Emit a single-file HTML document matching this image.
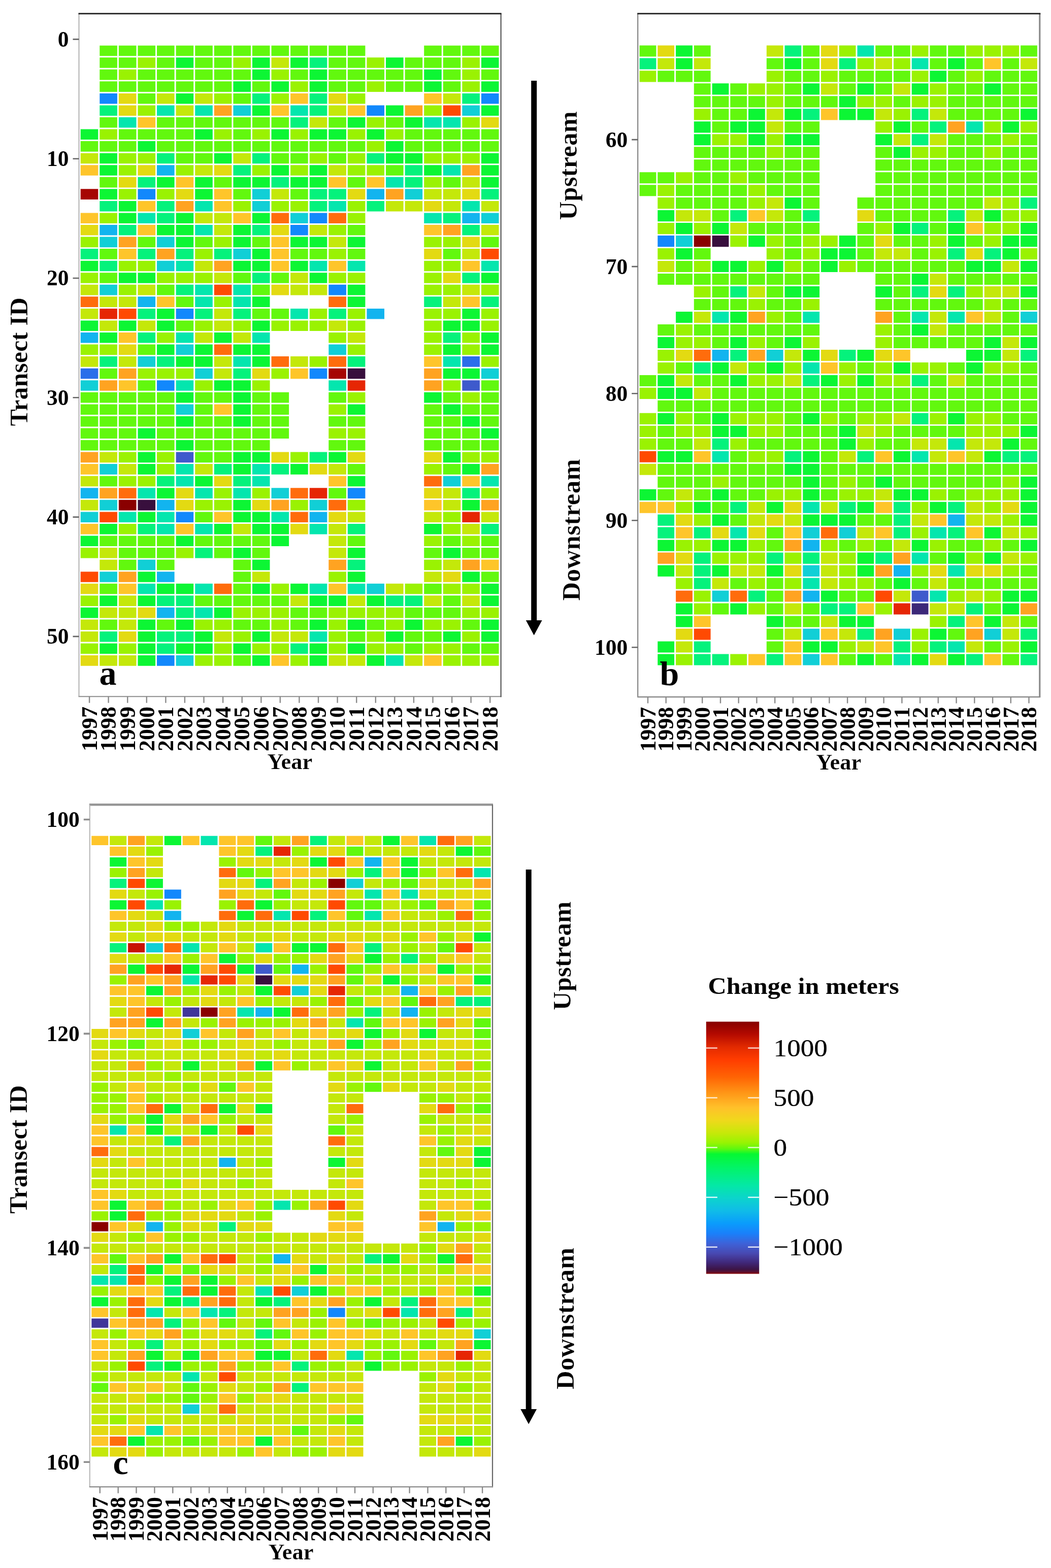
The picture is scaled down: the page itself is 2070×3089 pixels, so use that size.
<!DOCTYPE html>
<html lang="en"><head><meta charset="utf-8"><title>Change in meters by transect and year</title>
<style>html,body{margin:0;padding:0;background:#fff}svg{display:block}text{font-family:"Liberation Serif","DejaVu Serif",serif;fill:#000}.tk{font-size:43.5px;font-weight:bold;font-kerning:none}.xt{font-size:44px;font-weight:bold;font-kerning:none}.yr{font-size:44.5px;font-weight:bold;stroke:#fff;stroke-width:.25px}.st{font-size:51px;font-weight:bold;stroke:#fff;stroke-width:.35px}.ax{font-size:50px;font-weight:bold;stroke:#fff;stroke-width:.35px}.pl{font-size:68px;font-weight:bold}.lg{font-size:49px;stroke:#000;stroke-width:.25px}.lt{font-size:46.8px;font-weight:bold}</style></head><body>
<svg width="2070" height="3089" viewBox="0 0 2070 3089" role="img" aria-label="Heatmaps of change in meters by transect ID and year">
<rect width="2070" height="3089" fill="#fff"/>
<defs><linearGradient id="cb" x1="0" y1="0" x2="0" y2="1">
<stop offset="0%" stop-color="#860000"/>
<stop offset="5%" stop-color="#b40a00"/>
<stop offset="10%" stop-color="#e22a00"/>
<stop offset="15%" stop-color="#ff3c00"/>
<stop offset="22%" stop-color="#ff6404"/>
<stop offset="28%" stop-color="#ff9416"/>
<stop offset="34%" stop-color="#ffc02a"/>
<stop offset="39%" stop-color="#f0d81c"/>
<stop offset="44%" stop-color="#c8e80a"/>
<stop offset="48%" stop-color="#98f402"/>
<stop offset="50.5%" stop-color="#5cf810"/>
<stop offset="52.5%" stop-color="#06f832"/>
<stop offset="58%" stop-color="#02f468"/>
<stop offset="65%" stop-color="#04e8a6"/>
<stop offset="70%" stop-color="#0cd4cc"/>
<stop offset="75%" stop-color="#10bce8"/>
<stop offset="80%" stop-color="#0a9cfc"/>
<stop offset="84%" stop-color="#1a80fa"/>
<stop offset="88%" stop-color="#3e62d8"/>
<stop offset="92%" stop-color="#4848b0"/>
<stop offset="95.5%" stop-color="#40287a"/>
<stop offset="98.2%" stop-color="#3c1446"/>
<stop offset="99.2%" stop-color="#5a1030"/>
<stop offset="100%" stop-color="#8a0a0a"/>
</linearGradient></defs>
<g id="panel-a">
<g class="cells">
<path fill="#1288fc" d="M196.3 183.9h34.6v20.6h-34.6zM947.9 183.9h34.6v20.6h-34.6zM722.4 207.4h34.6v20.6h-34.6zM271.5 372.3h34.6v20.6h-34.6zM609.7 419.4h34.6v20.6h-34.6zM572.1 443h34.6v20.6h-34.6zM647.3 560.8h34.6v20.6h-34.6zM346.6 607.9h34.6v20.6h-34.6zM609.7 725.7h34.6v20.6h-34.6zM309 749.2h34.6v20.6h-34.6zM684.8 961.3h34.6v20.6h-34.6zM346.6 1008.4h34.6v20.6h-34.6zM309 1291.1h34.6v20.6h-34.6z"/>
<path fill="#e62604" d="M196.3 607.9h34.6v20.6h-34.6zM684.8 749.2h34.6v20.6h-34.6zM609.7 961.3h34.6v20.6h-34.6zM910.3 1008.4h34.6v20.6h-34.6z"/>
<path fill="#0cf634" d="M346.6 113.2h34.6v20.6h-34.6zM496.9 113.2h34.6v20.6h-34.6zM572.1 113.2h34.6v20.6h-34.6zM760 113.2h34.6v20.6h-34.6zM947.9 113.2h34.6v20.6h-34.6zM496.9 136.8h34.6v20.6h-34.6zM609.7 136.8h34.6v20.6h-34.6zM835.2 136.8h34.6v20.6h-34.6zM459.4 160.3h34.6v20.6h-34.6zM534.5 160.3h34.6v20.6h-34.6zM609.7 160.3h34.6v20.6h-34.6zM835.2 160.3h34.6v20.6h-34.6zM947.9 160.3h34.6v20.6h-34.6zM346.6 183.9h34.6v20.6h-34.6zM496.9 207.4h34.6v20.6h-34.6zM760 207.4h34.6v20.6h-34.6zM947.9 207.4h34.6v20.6h-34.6zM684.8 231h34.6v20.6h-34.6zM797.6 231h34.6v20.6h-34.6zM158.7 254.5h34.6v20.6h-34.6zM384.2 254.5h34.6v20.6h-34.6zM534.5 254.5h34.6v20.6h-34.6zM609.7 254.5h34.6v20.6h-34.6zM647.3 254.5h34.6v20.6h-34.6zM722.4 254.5h34.6v20.6h-34.6zM271.5 278.1h34.6v20.6h-34.6zM760 278.1h34.6v20.6h-34.6zM196.3 301.7h34.6v20.6h-34.6zM421.8 301.7h34.6v20.6h-34.6zM760 301.7h34.6v20.6h-34.6zM797.6 301.7h34.6v20.6h-34.6zM947.9 301.7h34.6v20.6h-34.6zM196.3 325.2h34.6v20.6h-34.6zM534.5 325.2h34.6v20.6h-34.6zM609.7 325.2h34.6v20.6h-34.6zM835.2 325.2h34.6v20.6h-34.6zM947.9 325.2h34.6v20.6h-34.6zM309 348.8h34.6v20.6h-34.6zM384.2 348.8h34.6v20.6h-34.6zM459.4 348.8h34.6v20.6h-34.6zM496.9 348.8h34.6v20.6h-34.6zM572.1 348.8h34.6v20.6h-34.6zM609.7 348.8h34.6v20.6h-34.6zM947.9 348.8h34.6v20.6h-34.6zM196.3 372.3h34.6v20.6h-34.6zM384.2 372.3h34.6v20.6h-34.6zM233.9 395.9h34.6v20.6h-34.6zM233.9 419.4h34.6v20.6h-34.6zM346.6 419.4h34.6v20.6h-34.6zM496.9 419.4h34.6v20.6h-34.6zM309 443h34.6v20.6h-34.6zM346.6 443h34.6v20.6h-34.6zM459.4 443h34.6v20.6h-34.6zM346.6 466.6h34.6v20.6h-34.6zM459.4 466.6h34.6v20.6h-34.6zM572.1 466.6h34.6v20.6h-34.6zM609.7 466.6h34.6v20.6h-34.6zM684.8 466.6h34.6v20.6h-34.6zM496.9 490.1h34.6v20.6h-34.6zM158.7 513.7h34.6v20.6h-34.6zM459.4 513.7h34.6v20.6h-34.6zM496.9 513.7h34.6v20.6h-34.6zM572.1 513.7h34.6v20.6h-34.6zM233.9 537.2h34.6v20.6h-34.6zM271.5 537.2h34.6v20.6h-34.6zM609.7 537.2h34.6v20.6h-34.6zM947.9 537.2h34.6v20.6h-34.6zM684.8 560.8h34.6v20.6h-34.6zM496.9 584.3h34.6v20.6h-34.6zM684.8 584.3h34.6v20.6h-34.6zM309 607.9h34.6v20.6h-34.6zM910.3 607.9h34.6v20.6h-34.6zM158.7 631.5h34.6v20.6h-34.6zM233.9 631.5h34.6v20.6h-34.6zM309 631.5h34.6v20.6h-34.6zM496.9 631.5h34.6v20.6h-34.6zM872.7 631.5h34.6v20.6h-34.6zM910.3 631.5h34.6v20.6h-34.6zM196.3 655h34.6v20.6h-34.6zM421.8 655h34.6v20.6h-34.6zM947.9 655h34.6v20.6h-34.6zM309 678.6h34.6v20.6h-34.6zM384.2 678.6h34.6v20.6h-34.6zM459.4 678.6h34.6v20.6h-34.6zM496.9 678.6h34.6v20.6h-34.6zM872.7 678.6h34.6v20.6h-34.6zM947.9 678.6h34.6v20.6h-34.6zM346.6 702.1h34.6v20.6h-34.6zM384.2 702.1h34.6v20.6h-34.6zM496.9 702.1h34.6v20.6h-34.6zM872.7 725.7h34.6v20.6h-34.6zM910.3 725.7h34.6v20.6h-34.6zM421.8 749.2h34.6v20.6h-34.6zM459.4 749.2h34.6v20.6h-34.6zM346.6 772.8h34.6v20.6h-34.6zM459.4 772.8h34.6v20.6h-34.6zM835.2 772.8h34.6v20.6h-34.6zM459.4 796.4h34.6v20.6h-34.6zM684.8 796.4h34.6v20.6h-34.6zM872.7 796.4h34.6v20.6h-34.6zM346.6 819.9h34.6v20.6h-34.6zM459.4 819.9h34.6v20.6h-34.6zM910.3 819.9h34.6v20.6h-34.6zM271.5 843.5h34.6v20.6h-34.6zM947.9 843.5h34.6v20.6h-34.6zM346.6 867h34.6v20.6h-34.6zM271.5 890.6h34.6v20.6h-34.6zM459.4 890.6h34.6v20.6h-34.6zM496.9 890.6h34.6v20.6h-34.6zM647.3 890.6h34.6v20.6h-34.6zM872.7 890.6h34.6v20.6h-34.6zM271.5 914.1h34.6v20.6h-34.6zM459.4 914.1h34.6v20.6h-34.6zM572.1 914.1h34.6v20.6h-34.6zM910.3 914.1h34.6v20.6h-34.6zM384.2 937.7h34.6v20.6h-34.6zM684.8 937.7h34.6v20.6h-34.6zM309 961.3h34.6v20.6h-34.6zM459.4 984.8h34.6v20.6h-34.6zM910.3 984.8h34.6v20.6h-34.6zM271.5 1008.4h34.6v20.6h-34.6zM459.4 1008.4h34.6v20.6h-34.6zM496.9 1008.4h34.6v20.6h-34.6zM196.3 1031.9h34.6v20.6h-34.6zM421.8 1031.9h34.6v20.6h-34.6zM496.9 1031.9h34.6v20.6h-34.6zM534.5 1031.9h34.6v20.6h-34.6zM835.2 1031.9h34.6v20.6h-34.6zM158.7 1055.5h34.6v20.6h-34.6zM346.6 1055.5h34.6v20.6h-34.6zM534.5 1055.5h34.6v20.6h-34.6zM459.4 1079h34.6v20.6h-34.6zM684.8 1079h34.6v20.6h-34.6zM872.7 1079h34.6v20.6h-34.6zM496.9 1102.6h34.6v20.6h-34.6zM271.5 1126.2h34.6v20.6h-34.6zM684.8 1126.2h34.6v20.6h-34.6zM910.3 1126.2h34.6v20.6h-34.6zM309 1149.7h34.6v20.6h-34.6zM346.6 1149.7h34.6v20.6h-34.6zM496.9 1149.7h34.6v20.6h-34.6zM572.1 1149.7h34.6v20.6h-34.6zM947.9 1149.7h34.6v20.6h-34.6zM196.3 1173.3h34.6v20.6h-34.6zM271.5 1173.3h34.6v20.6h-34.6zM609.7 1173.3h34.6v20.6h-34.6zM647.3 1173.3h34.6v20.6h-34.6zM722.4 1173.3h34.6v20.6h-34.6zM947.9 1173.3h34.6v20.6h-34.6zM158.7 1196.8h34.6v20.6h-34.6zM421.8 1196.8h34.6v20.6h-34.6zM271.5 1220.4h34.6v20.6h-34.6zM346.6 1220.4h34.6v20.6h-34.6zM609.7 1220.4h34.6v20.6h-34.6zM684.8 1220.4h34.6v20.6h-34.6zM797.6 1220.4h34.6v20.6h-34.6zM947.9 1220.4h34.6v20.6h-34.6zM271.5 1243.9h34.6v20.6h-34.6zM384.2 1243.9h34.6v20.6h-34.6zM496.9 1243.9h34.6v20.6h-34.6zM760 1243.9h34.6v20.6h-34.6zM872.7 1243.9h34.6v20.6h-34.6zM947.9 1243.9h34.6v20.6h-34.6zM196.3 1267.5h34.6v20.6h-34.6zM271.5 1267.5h34.6v20.6h-34.6zM346.6 1267.5h34.6v20.6h-34.6zM384.2 1267.5h34.6v20.6h-34.6zM459.4 1267.5h34.6v20.6h-34.6zM609.7 1267.5h34.6v20.6h-34.6zM684.8 1267.5h34.6v20.6h-34.6zM271.5 1291.1h34.6v20.6h-34.6zM496.9 1291.1h34.6v20.6h-34.6zM609.7 1291.1h34.6v20.6h-34.6zM722.4 1291.1h34.6v20.6h-34.6z"/>
<path fill="#3e5acc" d="M910.3 749.2h34.6v20.6h-34.6zM346.6 890.6h34.6v20.6h-34.6z"/>
<path fill="#a60603" d="M158.7 372.3h34.6v20.6h-34.6zM647.3 725.7h34.6v20.6h-34.6z"/>
<path fill="#8a0000" d="M233.9 984.8h34.6v20.6h-34.6z"/>
<path fill="#ffa321" d="M421.8 207.4h34.6v20.6h-34.6zM797.6 207.4h34.6v20.6h-34.6zM910.3 325.2h34.6v20.6h-34.6zM760 372.3h34.6v20.6h-34.6zM346.6 395.9h34.6v20.6h-34.6zM872.7 443h34.6v20.6h-34.6zM233.9 466.6h34.6v20.6h-34.6zM309 490.1h34.6v20.6h-34.6zM421.8 513.7h34.6v20.6h-34.6zM233.9 725.7h34.6v20.6h-34.6zM835.2 725.7h34.6v20.6h-34.6zM196.3 749.2h34.6v20.6h-34.6zM835.2 749.2h34.6v20.6h-34.6zM158.7 890.6h34.6v20.6h-34.6zM947.9 914.1h34.6v20.6h-34.6zM196.3 961.3h34.6v20.6h-34.6zM534.5 984.8h34.6v20.6h-34.6zM947.9 984.8h34.6v20.6h-34.6zM647.3 1102.6h34.6v20.6h-34.6zM910.3 1102.6h34.6v20.6h-34.6zM233.9 1126.2h34.6v20.6h-34.6z"/>
<path fill="#380f3d" d="M684.8 725.7h34.6v20.6h-34.6zM271.5 984.8h34.6v20.6h-34.6z"/>
<path fill="#ff4a02" d="M872.7 207.4h34.6v20.6h-34.6zM947.9 490.1h34.6v20.6h-34.6zM421.8 560.8h34.6v20.6h-34.6zM233.9 607.9h34.6v20.6h-34.6zM196.3 1008.4h34.6v20.6h-34.6zM158.7 1126.2h34.6v20.6h-34.6z"/>
<path fill="#04e6ae" d="M309 207.4h34.6v20.6h-34.6zM384.2 207.4h34.6v20.6h-34.6zM572.1 207.4h34.6v20.6h-34.6zM233.9 231h34.6v20.6h-34.6zM835.2 231h34.6v20.6h-34.6zM872.7 231h34.6v20.6h-34.6zM872.7 325.2h34.6v20.6h-34.6zM760 348.8h34.6v20.6h-34.6zM384.2 395.9h34.6v20.6h-34.6zM647.3 395.9h34.6v20.6h-34.6zM910.3 395.9h34.6v20.6h-34.6zM271.5 419.4h34.6v20.6h-34.6zM835.2 419.4h34.6v20.6h-34.6zM384.2 443h34.6v20.6h-34.6zM346.6 513.7h34.6v20.6h-34.6zM609.7 513.7h34.6v20.6h-34.6zM684.8 513.7h34.6v20.6h-34.6zM947.9 513.7h34.6v20.6h-34.6zM384.2 560.8h34.6v20.6h-34.6zM459.4 560.8h34.6v20.6h-34.6zM384.2 584.3h34.6v20.6h-34.6zM459.4 584.3h34.6v20.6h-34.6zM572.1 607.9h34.6v20.6h-34.6zM346.6 655h34.6v20.6h-34.6zM496.9 655h34.6v20.6h-34.6zM459.4 702.1h34.6v20.6h-34.6zM872.7 702.1h34.6v20.6h-34.6zM346.6 749.2h34.6v20.6h-34.6zM647.3 749.2h34.6v20.6h-34.6zM346.6 914.1h34.6v20.6h-34.6zM496.9 914.1h34.6v20.6h-34.6zM346.6 937.7h34.6v20.6h-34.6zM496.9 937.7h34.6v20.6h-34.6zM947.9 937.7h34.6v20.6h-34.6zM271.5 961.3h34.6v20.6h-34.6zM384.2 961.3h34.6v20.6h-34.6zM459.4 961.3h34.6v20.6h-34.6zM233.9 1008.4h34.6v20.6h-34.6zM309 1008.4h34.6v20.6h-34.6zM534.5 1008.4h34.6v20.6h-34.6zM309 1031.9h34.6v20.6h-34.6zM384.2 1031.9h34.6v20.6h-34.6zM609.7 1031.9h34.6v20.6h-34.6zM271.5 1149.7h34.6v20.6h-34.6zM384.2 1149.7h34.6v20.6h-34.6zM609.7 1149.7h34.6v20.6h-34.6zM684.8 1149.7h34.6v20.6h-34.6zM384.2 1196.8h34.6v20.6h-34.6zM609.7 1243.9h34.6v20.6h-34.6zM760 1291.1h34.6v20.6h-34.6z"/>
<path fill="#2a6eea" d="M910.3 702.1h34.6v20.6h-34.6zM158.7 725.7h34.6v20.6h-34.6z"/>
<path fill="#e3da12" d="M233.9 183.9h34.6v20.6h-34.6zM647.3 183.9h34.6v20.6h-34.6zM233.9 207.4h34.6v20.6h-34.6zM947.9 231h34.6v20.6h-34.6zM271.5 325.2h34.6v20.6h-34.6zM421.8 325.2h34.6v20.6h-34.6zM233.9 348.8h34.6v20.6h-34.6zM346.6 372.3h34.6v20.6h-34.6zM684.8 372.3h34.6v20.6h-34.6zM910.3 372.3h34.6v20.6h-34.6zM835.2 395.9h34.6v20.6h-34.6zM158.7 443h34.6v20.6h-34.6zM534.5 443h34.6v20.6h-34.6zM910.3 466.6h34.6v20.6h-34.6zM835.2 490.1h34.6v20.6h-34.6zM872.7 537.2h34.6v20.6h-34.6zM534.5 560.8h34.6v20.6h-34.6zM233.9 678.6h34.6v20.6h-34.6zM496.9 725.7h34.6v20.6h-34.6zM534.5 890.6h34.6v20.6h-34.6zM684.8 890.6h34.6v20.6h-34.6zM835.2 890.6h34.6v20.6h-34.6zM609.7 914.1h34.6v20.6h-34.6zM421.8 937.7h34.6v20.6h-34.6zM346.6 961.3h34.6v20.6h-34.6zM835.2 961.3h34.6v20.6h-34.6zM346.6 984.8h34.6v20.6h-34.6zM496.9 984.8h34.6v20.6h-34.6zM647.3 1008.4h34.6v20.6h-34.6zM572.1 1031.9h34.6v20.6h-34.6zM872.7 1126.2h34.6v20.6h-34.6zM158.7 1149.7h34.6v20.6h-34.6zM271.5 1196.8h34.6v20.6h-34.6zM233.9 1243.9h34.6v20.6h-34.6zM158.7 1291.1h34.6v20.6h-34.6z"/>
<path fill="#12b4ef" d="M309 325.2h34.6v20.6h-34.6zM722.4 372.3h34.6v20.6h-34.6zM910.3 419.4h34.6v20.6h-34.6zM196.3 443h34.6v20.6h-34.6zM271.5 584.3h34.6v20.6h-34.6zM722.4 607.9h34.6v20.6h-34.6zM158.7 655h34.6v20.6h-34.6zM158.7 961.3h34.6v20.6h-34.6zM309 984.8h34.6v20.6h-34.6zM609.7 1008.4h34.6v20.6h-34.6zM309 1126.2h34.6v20.6h-34.6zM309 1196.8h34.6v20.6h-34.6z"/>
<path fill="#11cfd6" d="M459.4 207.4h34.6v20.6h-34.6zM910.3 207.4h34.6v20.6h-34.6zM496.9 372.3h34.6v20.6h-34.6zM797.6 372.3h34.6v20.6h-34.6zM496.9 395.9h34.6v20.6h-34.6zM572.1 419.4h34.6v20.6h-34.6zM947.9 419.4h34.6v20.6h-34.6zM196.3 466.6h34.6v20.6h-34.6zM309 466.6h34.6v20.6h-34.6zM459.4 490.1h34.6v20.6h-34.6zM309 513.7h34.6v20.6h-34.6zM196.3 560.8h34.6v20.6h-34.6zM346.6 678.6h34.6v20.6h-34.6zM647.3 678.6h34.6v20.6h-34.6zM271.5 702.1h34.6v20.6h-34.6zM384.2 725.7h34.6v20.6h-34.6zM947.9 725.7h34.6v20.6h-34.6zM158.7 749.2h34.6v20.6h-34.6zM346.6 796.4h34.6v20.6h-34.6zM196.3 914.1h34.6v20.6h-34.6zM872.7 937.7h34.6v20.6h-34.6zM534.5 961.3h34.6v20.6h-34.6zM196.3 984.8h34.6v20.6h-34.6zM609.7 984.8h34.6v20.6h-34.6zM158.7 1008.4h34.6v20.6h-34.6zM271.5 1102.6h34.6v20.6h-34.6zM196.3 1126.2h34.6v20.6h-34.6zM722.4 1149.7h34.6v20.6h-34.6zM346.6 1291.1h34.6v20.6h-34.6z"/>
<path fill="#62f80e" d="M196.3 89.7h34.6v20.6h-34.6zM233.9 89.7h34.6v20.6h-34.6zM271.5 89.7h34.6v20.6h-34.6zM309 89.7h34.6v20.6h-34.6zM346.6 89.7h34.6v20.6h-34.6zM384.2 89.7h34.6v20.6h-34.6zM421.8 89.7h34.6v20.6h-34.6zM459.4 89.7h34.6v20.6h-34.6zM496.9 89.7h34.6v20.6h-34.6zM534.5 89.7h34.6v20.6h-34.6zM572.1 89.7h34.6v20.6h-34.6zM609.7 89.7h34.6v20.6h-34.6zM647.3 89.7h34.6v20.6h-34.6zM684.8 89.7h34.6v20.6h-34.6zM835.2 89.7h34.6v20.6h-34.6zM872.7 89.7h34.6v20.6h-34.6zM910.3 89.7h34.6v20.6h-34.6zM947.9 89.7h34.6v20.6h-34.6zM196.3 113.2h34.6v20.6h-34.6zM233.9 113.2h34.6v20.6h-34.6zM309 113.2h34.6v20.6h-34.6zM384.2 113.2h34.6v20.6h-34.6zM421.8 113.2h34.6v20.6h-34.6zM647.3 113.2h34.6v20.6h-34.6zM684.8 113.2h34.6v20.6h-34.6zM797.6 113.2h34.6v20.6h-34.6zM835.2 113.2h34.6v20.6h-34.6zM872.7 113.2h34.6v20.6h-34.6zM196.3 136.8h34.6v20.6h-34.6zM271.5 136.8h34.6v20.6h-34.6zM309 136.8h34.6v20.6h-34.6zM346.6 136.8h34.6v20.6h-34.6zM384.2 136.8h34.6v20.6h-34.6zM421.8 136.8h34.6v20.6h-34.6zM459.4 136.8h34.6v20.6h-34.6zM572.1 136.8h34.6v20.6h-34.6zM647.3 136.8h34.6v20.6h-34.6zM684.8 136.8h34.6v20.6h-34.6zM722.4 136.8h34.6v20.6h-34.6zM760 136.8h34.6v20.6h-34.6zM797.6 136.8h34.6v20.6h-34.6zM872.7 136.8h34.6v20.6h-34.6zM947.9 136.8h34.6v20.6h-34.6zM196.3 160.3h34.6v20.6h-34.6zM233.9 160.3h34.6v20.6h-34.6zM271.5 160.3h34.6v20.6h-34.6zM309 160.3h34.6v20.6h-34.6zM346.6 160.3h34.6v20.6h-34.6zM384.2 160.3h34.6v20.6h-34.6zM421.8 160.3h34.6v20.6h-34.6zM496.9 160.3h34.6v20.6h-34.6zM647.3 160.3h34.6v20.6h-34.6zM684.8 160.3h34.6v20.6h-34.6zM760 160.3h34.6v20.6h-34.6zM797.6 160.3h34.6v20.6h-34.6zM872.7 160.3h34.6v20.6h-34.6zM271.5 183.9h34.6v20.6h-34.6zM459.4 183.9h34.6v20.6h-34.6zM196.3 231h34.6v20.6h-34.6zM309 231h34.6v20.6h-34.6zM346.6 231h34.6v20.6h-34.6zM384.2 231h34.6v20.6h-34.6zM421.8 231h34.6v20.6h-34.6zM459.4 231h34.6v20.6h-34.6zM496.9 231h34.6v20.6h-34.6zM534.5 231h34.6v20.6h-34.6zM647.3 231h34.6v20.6h-34.6zM760 231h34.6v20.6h-34.6zM233.9 254.5h34.6v20.6h-34.6zM271.5 254.5h34.6v20.6h-34.6zM309 254.5h34.6v20.6h-34.6zM346.6 254.5h34.6v20.6h-34.6zM459.4 254.5h34.6v20.6h-34.6zM797.6 254.5h34.6v20.6h-34.6zM835.2 254.5h34.6v20.6h-34.6zM872.7 254.5h34.6v20.6h-34.6zM910.3 254.5h34.6v20.6h-34.6zM947.9 254.5h34.6v20.6h-34.6zM158.7 278.1h34.6v20.6h-34.6zM196.3 278.1h34.6v20.6h-34.6zM233.9 278.1h34.6v20.6h-34.6zM309 278.1h34.6v20.6h-34.6zM346.6 278.1h34.6v20.6h-34.6zM384.2 278.1h34.6v20.6h-34.6zM421.8 278.1h34.6v20.6h-34.6zM459.4 278.1h34.6v20.6h-34.6zM496.9 278.1h34.6v20.6h-34.6zM534.5 278.1h34.6v20.6h-34.6zM572.1 278.1h34.6v20.6h-34.6zM609.7 278.1h34.6v20.6h-34.6zM647.3 278.1h34.6v20.6h-34.6zM684.8 278.1h34.6v20.6h-34.6zM797.6 278.1h34.6v20.6h-34.6zM835.2 278.1h34.6v20.6h-34.6zM872.7 278.1h34.6v20.6h-34.6zM910.3 278.1h34.6v20.6h-34.6zM947.9 278.1h34.6v20.6h-34.6zM346.6 301.7h34.6v20.6h-34.6zM384.2 301.7h34.6v20.6h-34.6zM534.5 301.7h34.6v20.6h-34.6zM572.1 301.7h34.6v20.6h-34.6zM647.3 301.7h34.6v20.6h-34.6zM760 325.2h34.6v20.6h-34.6zM196.3 348.8h34.6v20.6h-34.6zM421.8 348.8h34.6v20.6h-34.6zM684.8 348.8h34.6v20.6h-34.6zM872.7 348.8h34.6v20.6h-34.6zM459.4 372.3h34.6v20.6h-34.6zM572.1 372.3h34.6v20.6h-34.6zM684.8 443h34.6v20.6h-34.6zM271.5 466.6h34.6v20.6h-34.6zM384.2 466.6h34.6v20.6h-34.6zM496.9 466.6h34.6v20.6h-34.6zM947.9 466.6h34.6v20.6h-34.6zM196.3 490.1h34.6v20.6h-34.6zM572.1 490.1h34.6v20.6h-34.6zM609.7 490.1h34.6v20.6h-34.6zM684.8 490.1h34.6v20.6h-34.6zM872.7 490.1h34.6v20.6h-34.6zM196.3 537.2h34.6v20.6h-34.6zM459.4 537.2h34.6v20.6h-34.6zM534.5 537.2h34.6v20.6h-34.6zM309 560.8h34.6v20.6h-34.6zM496.9 560.8h34.6v20.6h-34.6zM346.6 584.3h34.6v20.6h-34.6zM496.9 607.9h34.6v20.6h-34.6zM534.5 607.9h34.6v20.6h-34.6zM346.6 631.5h34.6v20.6h-34.6zM271.5 678.6h34.6v20.6h-34.6zM196.3 725.7h34.6v20.6h-34.6zM271.5 749.2h34.6v20.6h-34.6zM947.9 749.2h34.6v20.6h-34.6zM158.7 772.8h34.6v20.6h-34.6zM196.3 772.8h34.6v20.6h-34.6zM233.9 772.8h34.6v20.6h-34.6zM271.5 772.8h34.6v20.6h-34.6zM309 772.8h34.6v20.6h-34.6zM384.2 772.8h34.6v20.6h-34.6zM421.8 772.8h34.6v20.6h-34.6zM496.9 772.8h34.6v20.6h-34.6zM534.5 772.8h34.6v20.6h-34.6zM647.3 772.8h34.6v20.6h-34.6zM872.7 772.8h34.6v20.6h-34.6zM947.9 772.8h34.6v20.6h-34.6zM158.7 796.4h34.6v20.6h-34.6zM196.3 796.4h34.6v20.6h-34.6zM233.9 796.4h34.6v20.6h-34.6zM271.5 796.4h34.6v20.6h-34.6zM309 796.4h34.6v20.6h-34.6zM384.2 796.4h34.6v20.6h-34.6zM496.9 796.4h34.6v20.6h-34.6zM534.5 796.4h34.6v20.6h-34.6zM835.2 796.4h34.6v20.6h-34.6zM910.3 796.4h34.6v20.6h-34.6zM947.9 796.4h34.6v20.6h-34.6zM158.7 819.9h34.6v20.6h-34.6zM196.3 819.9h34.6v20.6h-34.6zM233.9 819.9h34.6v20.6h-34.6zM271.5 819.9h34.6v20.6h-34.6zM309 819.9h34.6v20.6h-34.6zM384.2 819.9h34.6v20.6h-34.6zM421.8 819.9h34.6v20.6h-34.6zM496.9 819.9h34.6v20.6h-34.6zM534.5 819.9h34.6v20.6h-34.6zM647.3 819.9h34.6v20.6h-34.6zM684.8 819.9h34.6v20.6h-34.6zM835.2 819.9h34.6v20.6h-34.6zM872.7 819.9h34.6v20.6h-34.6zM947.9 819.9h34.6v20.6h-34.6zM158.7 843.5h34.6v20.6h-34.6zM196.3 843.5h34.6v20.6h-34.6zM233.9 843.5h34.6v20.6h-34.6zM309 843.5h34.6v20.6h-34.6zM346.6 843.5h34.6v20.6h-34.6zM384.2 843.5h34.6v20.6h-34.6zM421.8 843.5h34.6v20.6h-34.6zM459.4 843.5h34.6v20.6h-34.6zM496.9 843.5h34.6v20.6h-34.6zM534.5 843.5h34.6v20.6h-34.6zM835.2 843.5h34.6v20.6h-34.6zM872.7 843.5h34.6v20.6h-34.6zM910.3 843.5h34.6v20.6h-34.6zM158.7 867h34.6v20.6h-34.6zM196.3 867h34.6v20.6h-34.6zM233.9 867h34.6v20.6h-34.6zM271.5 867h34.6v20.6h-34.6zM309 867h34.6v20.6h-34.6zM384.2 867h34.6v20.6h-34.6zM421.8 867h34.6v20.6h-34.6zM459.4 867h34.6v20.6h-34.6zM496.9 867h34.6v20.6h-34.6zM647.3 867h34.6v20.6h-34.6zM684.8 867h34.6v20.6h-34.6zM835.2 867h34.6v20.6h-34.6zM872.7 867h34.6v20.6h-34.6zM910.3 867h34.6v20.6h-34.6zM947.9 867h34.6v20.6h-34.6zM384.2 890.6h34.6v20.6h-34.6zM421.8 890.6h34.6v20.6h-34.6zM684.8 914.1h34.6v20.6h-34.6zM872.7 914.1h34.6v20.6h-34.6zM196.3 937.7h34.6v20.6h-34.6zM647.3 961.3h34.6v20.6h-34.6zM384.2 1008.4h34.6v20.6h-34.6zM196.3 1055.5h34.6v20.6h-34.6zM233.9 1055.5h34.6v20.6h-34.6zM271.5 1055.5h34.6v20.6h-34.6zM309 1055.5h34.6v20.6h-34.6zM384.2 1055.5h34.6v20.6h-34.6zM421.8 1055.5h34.6v20.6h-34.6zM459.4 1055.5h34.6v20.6h-34.6zM496.9 1055.5h34.6v20.6h-34.6zM684.8 1055.5h34.6v20.6h-34.6zM872.7 1055.5h34.6v20.6h-34.6zM947.9 1055.5h34.6v20.6h-34.6zM233.9 1079h34.6v20.6h-34.6zM271.5 1079h34.6v20.6h-34.6zM309 1079h34.6v20.6h-34.6zM421.8 1079h34.6v20.6h-34.6zM496.9 1079h34.6v20.6h-34.6zM835.2 1079h34.6v20.6h-34.6zM910.3 1079h34.6v20.6h-34.6zM947.9 1079h34.6v20.6h-34.6zM233.9 1102.6h34.6v20.6h-34.6zM309 1102.6h34.6v20.6h-34.6zM459.4 1102.6h34.6v20.6h-34.6zM459.4 1126.2h34.6v20.6h-34.6zM947.9 1126.2h34.6v20.6h-34.6zM196.3 1149.7h34.6v20.6h-34.6zM459.4 1149.7h34.6v20.6h-34.6zM835.2 1149.7h34.6v20.6h-34.6zM384.2 1173.3h34.6v20.6h-34.6zM421.8 1173.3h34.6v20.6h-34.6zM459.4 1173.3h34.6v20.6h-34.6zM496.9 1173.3h34.6v20.6h-34.6zM534.5 1173.3h34.6v20.6h-34.6zM872.7 1173.3h34.6v20.6h-34.6zM572.1 1196.8h34.6v20.6h-34.6zM609.7 1196.8h34.6v20.6h-34.6zM797.6 1196.8h34.6v20.6h-34.6zM835.2 1196.8h34.6v20.6h-34.6zM872.7 1196.8h34.6v20.6h-34.6zM196.3 1220.4h34.6v20.6h-34.6zM309 1220.4h34.6v20.6h-34.6zM459.4 1220.4h34.6v20.6h-34.6zM496.9 1220.4h34.6v20.6h-34.6zM572.1 1220.4h34.6v20.6h-34.6zM722.4 1220.4h34.6v20.6h-34.6zM910.3 1220.4h34.6v20.6h-34.6zM684.8 1243.9h34.6v20.6h-34.6zM797.6 1243.9h34.6v20.6h-34.6zM835.2 1243.9h34.6v20.6h-34.6zM797.6 1267.5h34.6v20.6h-34.6zM910.3 1267.5h34.6v20.6h-34.6zM947.9 1267.5h34.6v20.6h-34.6zM459.4 1291.1h34.6v20.6h-34.6z"/>
<path fill="#9af202" d="M271.5 113.2h34.6v20.6h-34.6zM459.4 113.2h34.6v20.6h-34.6zM722.4 113.2h34.6v20.6h-34.6zM910.3 113.2h34.6v20.6h-34.6zM233.9 136.8h34.6v20.6h-34.6zM534.5 136.8h34.6v20.6h-34.6zM910.3 136.8h34.6v20.6h-34.6zM572.1 160.3h34.6v20.6h-34.6zM722.4 160.3h34.6v20.6h-34.6zM910.3 160.3h34.6v20.6h-34.6zM421.8 183.9h34.6v20.6h-34.6zM534.5 183.9h34.6v20.6h-34.6zM684.8 183.9h34.6v20.6h-34.6zM271.5 207.4h34.6v20.6h-34.6zM835.2 207.4h34.6v20.6h-34.6zM722.4 231h34.6v20.6h-34.6zM910.3 231h34.6v20.6h-34.6zM196.3 254.5h34.6v20.6h-34.6zM421.8 254.5h34.6v20.6h-34.6zM496.9 254.5h34.6v20.6h-34.6zM572.1 254.5h34.6v20.6h-34.6zM684.8 254.5h34.6v20.6h-34.6zM760 254.5h34.6v20.6h-34.6zM722.4 278.1h34.6v20.6h-34.6zM233.9 301.7h34.6v20.6h-34.6zM271.5 301.7h34.6v20.6h-34.6zM609.7 301.7h34.6v20.6h-34.6zM684.8 301.7h34.6v20.6h-34.6zM835.2 301.7h34.6v20.6h-34.6zM872.7 301.7h34.6v20.6h-34.6zM910.3 301.7h34.6v20.6h-34.6zM233.9 325.2h34.6v20.6h-34.6zM346.6 325.2h34.6v20.6h-34.6zM496.9 325.2h34.6v20.6h-34.6zM572.1 325.2h34.6v20.6h-34.6zM684.8 325.2h34.6v20.6h-34.6zM722.4 325.2h34.6v20.6h-34.6zM835.2 348.8h34.6v20.6h-34.6zM233.9 372.3h34.6v20.6h-34.6zM309 372.3h34.6v20.6h-34.6zM459.4 395.9h34.6v20.6h-34.6zM534.5 395.9h34.6v20.6h-34.6zM572.1 395.9h34.6v20.6h-34.6zM684.8 395.9h34.6v20.6h-34.6zM196.3 419.4h34.6v20.6h-34.6zM684.8 419.4h34.6v20.6h-34.6zM647.3 443h34.6v20.6h-34.6zM158.7 466.6h34.6v20.6h-34.6zM421.8 466.6h34.6v20.6h-34.6zM835.2 466.6h34.6v20.6h-34.6zM872.7 466.6h34.6v20.6h-34.6zM384.2 490.1h34.6v20.6h-34.6zM647.3 490.1h34.6v20.6h-34.6zM233.9 513.7h34.6v20.6h-34.6zM271.5 513.7h34.6v20.6h-34.6zM835.2 513.7h34.6v20.6h-34.6zM872.7 513.7h34.6v20.6h-34.6zM158.7 537.2h34.6v20.6h-34.6zM309 537.2h34.6v20.6h-34.6zM346.6 537.2h34.6v20.6h-34.6zM384.2 537.2h34.6v20.6h-34.6zM647.3 537.2h34.6v20.6h-34.6zM684.8 537.2h34.6v20.6h-34.6zM835.2 537.2h34.6v20.6h-34.6zM233.9 560.8h34.6v20.6h-34.6zM835.2 560.8h34.6v20.6h-34.6zM872.7 560.8h34.6v20.6h-34.6zM947.9 560.8h34.6v20.6h-34.6zM421.8 584.3h34.6v20.6h-34.6zM609.7 607.9h34.6v20.6h-34.6zM684.8 607.9h34.6v20.6h-34.6zM835.2 607.9h34.6v20.6h-34.6zM872.7 607.9h34.6v20.6h-34.6zM947.9 607.9h34.6v20.6h-34.6zM384.2 631.5h34.6v20.6h-34.6zM459.4 631.5h34.6v20.6h-34.6zM534.5 631.5h34.6v20.6h-34.6zM572.1 631.5h34.6v20.6h-34.6zM609.7 631.5h34.6v20.6h-34.6zM684.8 631.5h34.6v20.6h-34.6zM835.2 631.5h34.6v20.6h-34.6zM947.9 631.5h34.6v20.6h-34.6zM309 655h34.6v20.6h-34.6zM647.3 655h34.6v20.6h-34.6zM835.2 655h34.6v20.6h-34.6zM910.3 655h34.6v20.6h-34.6zM158.7 678.6h34.6v20.6h-34.6zM196.3 678.6h34.6v20.6h-34.6zM684.8 678.6h34.6v20.6h-34.6zM835.2 678.6h34.6v20.6h-34.6zM910.3 678.6h34.6v20.6h-34.6zM609.7 702.1h34.6v20.6h-34.6zM947.9 702.1h34.6v20.6h-34.6zM271.5 725.7h34.6v20.6h-34.6zM309 725.7h34.6v20.6h-34.6zM346.6 725.7h34.6v20.6h-34.6zM534.5 725.7h34.6v20.6h-34.6zM384.2 749.2h34.6v20.6h-34.6zM496.9 749.2h34.6v20.6h-34.6zM872.7 749.2h34.6v20.6h-34.6zM684.8 772.8h34.6v20.6h-34.6zM910.3 772.8h34.6v20.6h-34.6zM647.3 796.4h34.6v20.6h-34.6zM647.3 843.5h34.6v20.6h-34.6zM684.8 843.5h34.6v20.6h-34.6zM233.9 890.6h34.6v20.6h-34.6zM309 890.6h34.6v20.6h-34.6zM572.1 890.6h34.6v20.6h-34.6zM910.3 890.6h34.6v20.6h-34.6zM947.9 890.6h34.6v20.6h-34.6zM309 914.1h34.6v20.6h-34.6zM835.2 914.1h34.6v20.6h-34.6zM233.9 937.7h34.6v20.6h-34.6zM271.5 937.7h34.6v20.6h-34.6zM421.8 961.3h34.6v20.6h-34.6zM496.9 961.3h34.6v20.6h-34.6zM947.9 961.3h34.6v20.6h-34.6zM384.2 984.8h34.6v20.6h-34.6zM421.8 984.8h34.6v20.6h-34.6zM572.1 984.8h34.6v20.6h-34.6zM684.8 984.8h34.6v20.6h-34.6zM872.7 1008.4h34.6v20.6h-34.6zM233.9 1031.9h34.6v20.6h-34.6zM872.7 1031.9h34.6v20.6h-34.6zM835.2 1055.5h34.6v20.6h-34.6zM910.3 1055.5h34.6v20.6h-34.6zM158.7 1079h34.6v20.6h-34.6zM346.6 1079h34.6v20.6h-34.6zM835.2 1102.6h34.6v20.6h-34.6zM647.3 1126.2h34.6v20.6h-34.6zM534.5 1149.7h34.6v20.6h-34.6zM797.6 1149.7h34.6v20.6h-34.6zM872.7 1149.7h34.6v20.6h-34.6zM910.3 1149.7h34.6v20.6h-34.6zM158.7 1173.3h34.6v20.6h-34.6zM459.4 1196.8h34.6v20.6h-34.6zM496.9 1196.8h34.6v20.6h-34.6zM534.5 1196.8h34.6v20.6h-34.6zM647.3 1196.8h34.6v20.6h-34.6zM684.8 1196.8h34.6v20.6h-34.6zM722.4 1196.8h34.6v20.6h-34.6zM760 1196.8h34.6v20.6h-34.6zM910.3 1196.8h34.6v20.6h-34.6zM947.9 1196.8h34.6v20.6h-34.6zM384.2 1220.4h34.6v20.6h-34.6zM421.8 1220.4h34.6v20.6h-34.6zM534.5 1220.4h34.6v20.6h-34.6zM647.3 1220.4h34.6v20.6h-34.6zM760 1220.4h34.6v20.6h-34.6zM835.2 1220.4h34.6v20.6h-34.6zM872.7 1220.4h34.6v20.6h-34.6zM459.4 1243.9h34.6v20.6h-34.6zM647.3 1243.9h34.6v20.6h-34.6zM722.4 1243.9h34.6v20.6h-34.6zM910.3 1243.9h34.6v20.6h-34.6zM158.7 1267.5h34.6v20.6h-34.6zM233.9 1267.5h34.6v20.6h-34.6zM421.8 1267.5h34.6v20.6h-34.6zM496.9 1267.5h34.6v20.6h-34.6zM534.5 1267.5h34.6v20.6h-34.6zM647.3 1267.5h34.6v20.6h-34.6zM722.4 1267.5h34.6v20.6h-34.6zM760 1267.5h34.6v20.6h-34.6zM835.2 1267.5h34.6v20.6h-34.6zM872.7 1267.5h34.6v20.6h-34.6zM384.2 1291.1h34.6v20.6h-34.6zM421.8 1291.1h34.6v20.6h-34.6zM572.1 1291.1h34.6v20.6h-34.6zM872.7 1291.1h34.6v20.6h-34.6zM910.3 1291.1h34.6v20.6h-34.6zM947.9 1291.1h34.6v20.6h-34.6z"/>
<path fill="#fec52a" d="M572.1 183.9h34.6v20.6h-34.6zM835.2 183.9h34.6v20.6h-34.6zM534.5 207.4h34.6v20.6h-34.6zM684.8 207.4h34.6v20.6h-34.6zM271.5 231h34.6v20.6h-34.6zM158.7 325.2h34.6v20.6h-34.6zM346.6 348.8h34.6v20.6h-34.6zM647.3 348.8h34.6v20.6h-34.6zM722.4 348.8h34.6v20.6h-34.6zM421.8 372.3h34.6v20.6h-34.6zM271.5 395.9h34.6v20.6h-34.6zM421.8 395.9h34.6v20.6h-34.6zM158.7 419.4h34.6v20.6h-34.6zM459.4 419.4h34.6v20.6h-34.6zM271.5 443h34.6v20.6h-34.6zM835.2 443h34.6v20.6h-34.6zM534.5 466.6h34.6v20.6h-34.6zM233.9 490.1h34.6v20.6h-34.6zM534.5 490.1h34.6v20.6h-34.6zM534.5 513.7h34.6v20.6h-34.6zM647.3 513.7h34.6v20.6h-34.6zM910.3 513.7h34.6v20.6h-34.6zM309 584.3h34.6v20.6h-34.6zM910.3 584.3h34.6v20.6h-34.6zM233.9 655h34.6v20.6h-34.6zM835.2 702.1h34.6v20.6h-34.6zM572.1 725.7h34.6v20.6h-34.6zM233.9 749.2h34.6v20.6h-34.6zM421.8 796.4h34.6v20.6h-34.6zM158.7 914.1h34.6v20.6h-34.6zM647.3 937.7h34.6v20.6h-34.6zM910.3 937.7h34.6v20.6h-34.6zM835.2 984.8h34.6v20.6h-34.6zM421.8 1008.4h34.6v20.6h-34.6zM158.7 1031.9h34.6v20.6h-34.6zM346.6 1031.9h34.6v20.6h-34.6zM947.9 1102.6h34.6v20.6h-34.6zM233.9 1149.7h34.6v20.6h-34.6zM647.3 1149.7h34.6v20.6h-34.6zM534.5 1291.1h34.6v20.6h-34.6zM835.2 1291.1h34.6v20.6h-34.6z"/>
<path fill="#ff6c0c" d="M534.5 419.4h34.6v20.6h-34.6zM647.3 419.4h34.6v20.6h-34.6zM158.7 584.3h34.6v20.6h-34.6zM647.3 584.3h34.6v20.6h-34.6zM421.8 678.6h34.6v20.6h-34.6zM534.5 702.1h34.6v20.6h-34.6zM647.3 702.1h34.6v20.6h-34.6zM835.2 937.7h34.6v20.6h-34.6zM233.9 961.3h34.6v20.6h-34.6zM572.1 961.3h34.6v20.6h-34.6zM647.3 984.8h34.6v20.6h-34.6zM572.1 1008.4h34.6v20.6h-34.6zM421.8 1149.7h34.6v20.6h-34.6z"/>
<path fill="#05f27c" d="M609.7 113.2h34.6v20.6h-34.6zM496.9 183.9h34.6v20.6h-34.6zM609.7 183.9h34.6v20.6h-34.6zM910.3 183.9h34.6v20.6h-34.6zM196.3 207.4h34.6v20.6h-34.6zM609.7 207.4h34.6v20.6h-34.6zM572.1 231h34.6v20.6h-34.6zM309 301.7h34.6v20.6h-34.6zM496.9 301.7h34.6v20.6h-34.6zM722.4 301.7h34.6v20.6h-34.6zM459.4 325.2h34.6v20.6h-34.6zM797.6 325.2h34.6v20.6h-34.6zM271.5 348.8h34.6v20.6h-34.6zM534.5 348.8h34.6v20.6h-34.6zM797.6 348.8h34.6v20.6h-34.6zM609.7 372.3h34.6v20.6h-34.6zM647.3 372.3h34.6v20.6h-34.6zM947.9 372.3h34.6v20.6h-34.6zM196.3 395.9h34.6v20.6h-34.6zM309 395.9h34.6v20.6h-34.6zM609.7 395.9h34.6v20.6h-34.6zM722.4 395.9h34.6v20.6h-34.6zM309 419.4h34.6v20.6h-34.6zM872.7 419.4h34.6v20.6h-34.6zM233.9 443h34.6v20.6h-34.6zM496.9 443h34.6v20.6h-34.6zM910.3 443h34.6v20.6h-34.6zM158.7 490.1h34.6v20.6h-34.6zM271.5 490.1h34.6v20.6h-34.6zM346.6 490.1h34.6v20.6h-34.6zM421.8 490.1h34.6v20.6h-34.6zM196.3 513.7h34.6v20.6h-34.6zM496.9 537.2h34.6v20.6h-34.6zM910.3 537.2h34.6v20.6h-34.6zM346.6 560.8h34.6v20.6h-34.6zM835.2 584.3h34.6v20.6h-34.6zM947.9 584.3h34.6v20.6h-34.6zM271.5 607.9h34.6v20.6h-34.6zM384.2 607.9h34.6v20.6h-34.6zM459.4 607.9h34.6v20.6h-34.6zM647.3 607.9h34.6v20.6h-34.6zM271.5 655h34.6v20.6h-34.6zM872.7 655h34.6v20.6h-34.6zM196.3 702.1h34.6v20.6h-34.6zM309 702.1h34.6v20.6h-34.6zM684.8 702.1h34.6v20.6h-34.6zM459.4 725.7h34.6v20.6h-34.6zM609.7 890.6h34.6v20.6h-34.6zM421.8 914.1h34.6v20.6h-34.6zM534.5 914.1h34.6v20.6h-34.6zM309 937.7h34.6v20.6h-34.6zM459.4 937.7h34.6v20.6h-34.6zM910.3 961.3h34.6v20.6h-34.6zM271.5 1031.9h34.6v20.6h-34.6zM684.8 1031.9h34.6v20.6h-34.6zM947.9 1031.9h34.6v20.6h-34.6zM384.2 1079h34.6v20.6h-34.6zM684.8 1102.6h34.6v20.6h-34.6zM309 1173.3h34.6v20.6h-34.6zM346.6 1173.3h34.6v20.6h-34.6zM760 1173.3h34.6v20.6h-34.6zM797.6 1173.3h34.6v20.6h-34.6zM346.6 1196.8h34.6v20.6h-34.6zM196.3 1243.9h34.6v20.6h-34.6zM309 1243.9h34.6v20.6h-34.6zM346.6 1243.9h34.6v20.6h-34.6zM309 1267.5h34.6v20.6h-34.6zM572.1 1267.5h34.6v20.6h-34.6z"/>
<path fill="#c4e80a" d="M534.5 113.2h34.6v20.6h-34.6zM309 183.9h34.6v20.6h-34.6zM384.2 183.9h34.6v20.6h-34.6zM872.7 183.9h34.6v20.6h-34.6zM346.6 207.4h34.6v20.6h-34.6zM647.3 207.4h34.6v20.6h-34.6zM609.7 231h34.6v20.6h-34.6zM158.7 301.7h34.6v20.6h-34.6zM459.4 301.7h34.6v20.6h-34.6zM384.2 325.2h34.6v20.6h-34.6zM647.3 325.2h34.6v20.6h-34.6zM910.3 348.8h34.6v20.6h-34.6zM534.5 372.3h34.6v20.6h-34.6zM835.2 372.3h34.6v20.6h-34.6zM872.7 372.3h34.6v20.6h-34.6zM760 395.9h34.6v20.6h-34.6zM797.6 395.9h34.6v20.6h-34.6zM872.7 395.9h34.6v20.6h-34.6zM947.9 395.9h34.6v20.6h-34.6zM384.2 419.4h34.6v20.6h-34.6zM421.8 419.4h34.6v20.6h-34.6zM421.8 443h34.6v20.6h-34.6zM609.7 443h34.6v20.6h-34.6zM947.9 443h34.6v20.6h-34.6zM647.3 466.6h34.6v20.6h-34.6zM910.3 490.1h34.6v20.6h-34.6zM384.2 513.7h34.6v20.6h-34.6zM421.8 537.2h34.6v20.6h-34.6zM572.1 537.2h34.6v20.6h-34.6zM158.7 560.8h34.6v20.6h-34.6zM271.5 560.8h34.6v20.6h-34.6zM572.1 560.8h34.6v20.6h-34.6zM609.7 560.8h34.6v20.6h-34.6zM910.3 560.8h34.6v20.6h-34.6zM196.3 584.3h34.6v20.6h-34.6zM233.9 584.3h34.6v20.6h-34.6zM872.7 584.3h34.6v20.6h-34.6zM158.7 607.9h34.6v20.6h-34.6zM421.8 607.9h34.6v20.6h-34.6zM196.3 631.5h34.6v20.6h-34.6zM271.5 631.5h34.6v20.6h-34.6zM421.8 631.5h34.6v20.6h-34.6zM647.3 631.5h34.6v20.6h-34.6zM384.2 655h34.6v20.6h-34.6zM459.4 655h34.6v20.6h-34.6zM684.8 655h34.6v20.6h-34.6zM158.7 702.1h34.6v20.6h-34.6zM233.9 702.1h34.6v20.6h-34.6zM421.8 702.1h34.6v20.6h-34.6zM572.1 702.1h34.6v20.6h-34.6zM421.8 725.7h34.6v20.6h-34.6zM196.3 890.6h34.6v20.6h-34.6zM233.9 914.1h34.6v20.6h-34.6zM384.2 914.1h34.6v20.6h-34.6zM647.3 914.1h34.6v20.6h-34.6zM158.7 937.7h34.6v20.6h-34.6zM872.7 961.3h34.6v20.6h-34.6zM158.7 984.8h34.6v20.6h-34.6zM872.7 984.8h34.6v20.6h-34.6zM684.8 1008.4h34.6v20.6h-34.6zM835.2 1008.4h34.6v20.6h-34.6zM947.9 1008.4h34.6v20.6h-34.6zM459.4 1031.9h34.6v20.6h-34.6zM647.3 1031.9h34.6v20.6h-34.6zM910.3 1031.9h34.6v20.6h-34.6zM647.3 1055.5h34.6v20.6h-34.6zM196.3 1079h34.6v20.6h-34.6zM647.3 1079h34.6v20.6h-34.6zM196.3 1102.6h34.6v20.6h-34.6zM872.7 1102.6h34.6v20.6h-34.6zM496.9 1126.2h34.6v20.6h-34.6zM835.2 1126.2h34.6v20.6h-34.6zM760 1149.7h34.6v20.6h-34.6zM233.9 1173.3h34.6v20.6h-34.6zM572.1 1173.3h34.6v20.6h-34.6zM684.8 1173.3h34.6v20.6h-34.6zM835.2 1173.3h34.6v20.6h-34.6zM910.3 1173.3h34.6v20.6h-34.6zM196.3 1196.8h34.6v20.6h-34.6zM233.9 1196.8h34.6v20.6h-34.6zM158.7 1220.4h34.6v20.6h-34.6zM233.9 1220.4h34.6v20.6h-34.6zM158.7 1243.9h34.6v20.6h-34.6zM421.8 1243.9h34.6v20.6h-34.6zM534.5 1243.9h34.6v20.6h-34.6zM572.1 1243.9h34.6v20.6h-34.6zM196.3 1291.1h34.6v20.6h-34.6zM233.9 1291.1h34.6v20.6h-34.6zM647.3 1291.1h34.6v20.6h-34.6zM684.8 1291.1h34.6v20.6h-34.6zM797.6 1291.1h34.6v20.6h-34.6z"/>
</g>
<path d="M155.5 26.8V1372.2" stroke="#a8a8a8" stroke-width="1.8" fill="none"/>
<path d="M154.5 1372.2H987.6" stroke="#999" stroke-width="2.2" fill="none"/>
<path d="M986.6 26.8V1373.2" stroke="#555" stroke-width="2.2" fill="none"/>
<path d="M154.5 26.8H987.6" stroke="#1c1c1c" stroke-width="2.8" fill="none"/>
<text class="tk" x="135.5" y="91.8" text-anchor="end">0</text>
<text class="tk" x="135.5" y="327.1" text-anchor="end">10</text>
<text class="tk" x="135.5" y="562.4" text-anchor="end">20</text>
<text class="tk" x="135.5" y="797.7" text-anchor="end">30</text>
<text class="tk" x="135.5" y="1033" text-anchor="end">40</text>
<text class="tk" x="135.5" y="1268.3" text-anchor="end">50</text>
<path d="M143.5 77.4H155.5M143.5 312.7H155.5M143.5 548H155.5M143.5 783.3H155.5M143.5 1018.6H155.5M143.5 1253.9H155.5" stroke="#666" stroke-width="2.6" fill="none"/>
<text class="xt" transform="translate(190.8 1392) rotate(-90)" text-anchor="end">1997</text>
<text class="xt" transform="translate(228.3 1392) rotate(-90)" text-anchor="end">1998</text>
<text class="xt" transform="translate(265.9 1392) rotate(-90)" text-anchor="end">1999</text>
<text class="xt" transform="translate(303.5 1392) rotate(-90)" text-anchor="end">2000</text>
<text class="xt" transform="translate(341.1 1392) rotate(-90)" text-anchor="end">2001</text>
<text class="xt" transform="translate(378.6 1392) rotate(-90)" text-anchor="end">2002</text>
<text class="xt" transform="translate(416.2 1392) rotate(-90)" text-anchor="end">2003</text>
<text class="xt" transform="translate(453.8 1392) rotate(-90)" text-anchor="end">2004</text>
<text class="xt" transform="translate(491.4 1392) rotate(-90)" text-anchor="end">2005</text>
<text class="xt" transform="translate(529 1392) rotate(-90)" text-anchor="end">2006</text>
<text class="xt" transform="translate(566.5 1392) rotate(-90)" text-anchor="end">2007</text>
<text class="xt" transform="translate(604.1 1392) rotate(-90)" text-anchor="end">2008</text>
<text class="xt" transform="translate(641.7 1392) rotate(-90)" text-anchor="end">2009</text>
<text class="xt" transform="translate(679.3 1392) rotate(-90)" text-anchor="end">2010</text>
<text class="xt" transform="translate(716.9 1392) rotate(-90)" text-anchor="end">2011</text>
<text class="xt" transform="translate(754.5 1392) rotate(-90)" text-anchor="end">2012</text>
<text class="xt" transform="translate(792 1392) rotate(-90)" text-anchor="end">2013</text>
<text class="xt" transform="translate(829.6 1392) rotate(-90)" text-anchor="end">2014</text>
<text class="xt" transform="translate(867.2 1392) rotate(-90)" text-anchor="end">2015</text>
<text class="xt" transform="translate(904.8 1392) rotate(-90)" text-anchor="end">2016</text>
<text class="xt" transform="translate(942.3 1392) rotate(-90)" text-anchor="end">2017</text>
<text class="xt" transform="translate(979.9 1392) rotate(-90)" text-anchor="end">2018</text>
<path d="M176.1 1372.2V1384.7M213.6 1372.2V1384.7M251.2 1372.2V1384.7M288.8 1372.2V1384.7M326.4 1372.2V1384.7M363.9 1372.2V1384.7M401.5 1372.2V1384.7M439.1 1372.2V1384.7M476.7 1372.2V1384.7M514.3 1372.2V1384.7M551.8 1372.2V1384.7M589.4 1372.2V1384.7M627 1372.2V1384.7M664.6 1372.2V1384.7M702.2 1372.2V1384.7M739.8 1372.2V1384.7M777.3 1372.2V1384.7M814.9 1372.2V1384.7M852.5 1372.2V1384.7M890.1 1372.2V1384.7M927.6 1372.2V1384.7M965.2 1372.2V1384.7" stroke="#8a8a8a" stroke-width="2.4" fill="none"/>
<text class="yr" x="570.8" y="1514.8" text-anchor="middle">Year</text>
</g>
<g id="panel-b">
<g class="cells">
<path fill="#1288fc" d="M1295.3 464.1h32.8v22.1h-32.8z"/>
<path fill="#e62604" d="M1760 1188.5h32.8v22.1h-32.8z"/>
<path fill="#0cf634" d="M1331.1 89.4h32.8v22.1h-32.8zM1331.1 114.4h32.8v22.1h-32.8zM1545.5 114.4h32.8v22.1h-32.8zM1867.2 114.4h32.8v22.1h-32.8zM1831.4 139.3h32.8v22.1h-32.8zM1402.6 164.3h32.8v22.1h-32.8zM1581.3 164.3h32.8v22.1h-32.8zM1688.5 164.3h32.8v22.1h-32.8zM1795.7 164.3h32.8v22.1h-32.8zM1938.7 164.3h32.8v22.1h-32.8zM1652.7 189.3h32.8v22.1h-32.8zM1474 214.3h32.8v22.1h-32.8zM1545.5 214.3h32.8v22.1h-32.8zM1652.7 214.3h32.8v22.1h-32.8zM1688.5 214.3h32.8v22.1h-32.8zM2010.1 214.3h32.8v22.1h-32.8zM1366.8 239.3h32.8v22.1h-32.8zM1438.3 239.3h32.8v22.1h-32.8zM1474 239.3h32.8v22.1h-32.8zM1760 239.3h32.8v22.1h-32.8zM1974.4 239.3h32.8v22.1h-32.8zM1366.8 264.2h32.8v22.1h-32.8zM1474 264.2h32.8v22.1h-32.8zM1545.5 264.2h32.8v22.1h-32.8zM1581.3 264.2h32.8v22.1h-32.8zM1724.2 264.2h32.8v22.1h-32.8zM1760 289.2h32.8v22.1h-32.8zM1545.5 389.1h32.8v22.1h-32.8zM1295.3 414.1h32.8v22.1h-32.8zM1938.7 414.1h32.8v22.1h-32.8zM1331.1 439.1h32.8v22.1h-32.8zM1402.6 439.1h32.8v22.1h-32.8zM1760 439.1h32.8v22.1h-32.8zM1867.2 439.1h32.8v22.1h-32.8zM2010.1 439.1h32.8v22.1h-32.8zM1474 464.1h32.8v22.1h-32.8zM1652.7 464.1h32.8v22.1h-32.8zM1867.2 464.1h32.8v22.1h-32.8zM1974.4 464.1h32.8v22.1h-32.8zM2010.1 464.1h32.8v22.1h-32.8zM1331.1 489.1h32.8v22.1h-32.8zM1617 489.1h32.8v22.1h-32.8zM1652.7 489.1h32.8v22.1h-32.8zM1974.4 489.1h32.8v22.1h-32.8zM1402.6 514h32.8v22.1h-32.8zM1438.3 514h32.8v22.1h-32.8zM1509.8 514h32.8v22.1h-32.8zM1617 514h32.8v22.1h-32.8zM1902.9 514h32.8v22.1h-32.8zM1938.7 514h32.8v22.1h-32.8zM2010.1 514h32.8v22.1h-32.8zM1795.7 539h32.8v22.1h-32.8zM1545.5 564h32.8v22.1h-32.8zM1581.3 564h32.8v22.1h-32.8zM1724.2 564h32.8v22.1h-32.8zM2010.1 564h32.8v22.1h-32.8zM1331.1 614h32.8v22.1h-32.8zM1438.3 614h32.8v22.1h-32.8zM1795.7 638.9h32.8v22.1h-32.8zM1295.3 663.9h32.8v22.1h-32.8zM1438.3 663.9h32.8v22.1h-32.8zM1545.5 663.9h32.8v22.1h-32.8zM1938.7 663.9h32.8v22.1h-32.8zM2010.1 663.9h32.8v22.1h-32.8zM1581.3 688.9h32.8v22.1h-32.8zM1688.5 688.9h32.8v22.1h-32.8zM1902.9 688.9h32.8v22.1h-32.8zM1938.7 688.9h32.8v22.1h-32.8zM1402.6 713.9h32.8v22.1h-32.8zM1509.8 713.9h32.8v22.1h-32.8zM1760 713.9h32.8v22.1h-32.8zM1902.9 713.9h32.8v22.1h-32.8zM1295.3 738.9h32.8v22.1h-32.8zM1438.3 738.9h32.8v22.1h-32.8zM1617 738.9h32.8v22.1h-32.8zM1688.5 738.9h32.8v22.1h-32.8zM1295.3 763.8h32.8v22.1h-32.8zM1331.1 763.8h32.8v22.1h-32.8zM1295.3 813.8h32.8v22.1h-32.8zM1402.6 813.8h32.8v22.1h-32.8zM1581.3 813.8h32.8v22.1h-32.8zM1867.2 813.8h32.8v22.1h-32.8zM1402.6 838.8h32.8v22.1h-32.8zM1438.3 838.8h32.8v22.1h-32.8zM1652.7 838.8h32.8v22.1h-32.8zM2010.1 838.8h32.8v22.1h-32.8zM1652.7 863.8h32.8v22.1h-32.8zM1974.4 863.8h32.8v22.1h-32.8zM1295.3 888.7h32.8v22.1h-32.8zM1331.1 888.7h32.8v22.1h-32.8zM1581.3 888.7h32.8v22.1h-32.8zM1760 888.7h32.8v22.1h-32.8zM1938.7 888.7h32.8v22.1h-32.8zM1545.5 913.7h32.8v22.1h-32.8zM1581.3 913.7h32.8v22.1h-32.8zM1581.3 938.7h32.8v22.1h-32.8zM1724.2 938.7h32.8v22.1h-32.8zM2010.1 938.7h32.8v22.1h-32.8zM1259.6 963.7h32.8v22.1h-32.8zM1402.6 963.7h32.8v22.1h-32.8zM1581.3 963.7h32.8v22.1h-32.8zM1760 963.7h32.8v22.1h-32.8zM1795.7 963.7h32.8v22.1h-32.8zM2010.1 963.7h32.8v22.1h-32.8zM1366.8 988.7h32.8v22.1h-32.8zM1509.8 988.7h32.8v22.1h-32.8zM1688.5 988.7h32.8v22.1h-32.8zM1831.4 988.7h32.8v22.1h-32.8zM2010.1 988.7h32.8v22.1h-32.8zM1402.6 1013.6h32.8v22.1h-32.8zM1581.3 1013.6h32.8v22.1h-32.8zM1617 1013.6h32.8v22.1h-32.8zM1652.7 1013.6h32.8v22.1h-32.8zM2010.1 1013.6h32.8v22.1h-32.8zM1938.7 1038.6h32.8v22.1h-32.8zM1295.3 1063.6h32.8v22.1h-32.8zM1402.6 1063.6h32.8v22.1h-32.8zM1438.3 1063.6h32.8v22.1h-32.8zM1795.7 1063.6h32.8v22.1h-32.8zM2010.1 1063.6h32.8v22.1h-32.8zM1688.5 1088.6h32.8v22.1h-32.8zM1867.2 1088.6h32.8v22.1h-32.8zM1938.7 1088.6h32.8v22.1h-32.8zM1295.3 1113.6h32.8v22.1h-32.8zM1402.6 1113.6h32.8v22.1h-32.8zM1509.8 1113.6h32.8v22.1h-32.8zM1688.5 1113.6h32.8v22.1h-32.8zM1760 1138.5h32.8v22.1h-32.8zM1617 1163.5h32.8v22.1h-32.8zM1974.4 1163.5h32.8v22.1h-32.8zM2010.1 1163.5h32.8v22.1h-32.8zM1331.1 1188.5h32.8v22.1h-32.8zM1438.3 1188.5h32.8v22.1h-32.8zM1974.4 1188.5h32.8v22.1h-32.8zM1331.1 1213.5h32.8v22.1h-32.8zM1509.8 1213.5h32.8v22.1h-32.8zM1652.7 1213.5h32.8v22.1h-32.8zM1688.5 1213.5h32.8v22.1h-32.8zM1938.7 1213.5h32.8v22.1h-32.8zM1831.4 1238.5h32.8v22.1h-32.8zM1295.3 1263.4h32.8v22.1h-32.8zM1581.3 1263.4h32.8v22.1h-32.8zM1617 1263.4h32.8v22.1h-32.8zM2010.1 1263.4h32.8v22.1h-32.8zM1295.3 1288.4h32.8v22.1h-32.8zM1688.5 1288.4h32.8v22.1h-32.8zM1795.7 1288.4h32.8v22.1h-32.8zM1867.2 1288.4h32.8v22.1h-32.8z"/>
<path fill="#3e5acc" d="M1795.7 1163.5h32.8v22.1h-32.8z"/>
<path fill="#8a0000" d="M1366.8 464.1h32.8v22.1h-32.8z"/>
<path fill="#ffa321" d="M1867.2 239.3h32.8v22.1h-32.8zM1474 614h32.8v22.1h-32.8zM1724.2 614h32.8v22.1h-32.8zM1474 688.9h32.8v22.1h-32.8zM1545.5 1063.6h32.8v22.1h-32.8zM1295.3 1088.6h32.8v22.1h-32.8zM1760 1088.6h32.8v22.1h-32.8zM1724.2 1113.6h32.8v22.1h-32.8zM1545.5 1163.5h32.8v22.1h-32.8zM2010.1 1188.5h32.8v22.1h-32.8zM1724.2 1238.5h32.8v22.1h-32.8zM1902.9 1238.5h32.8v22.1h-32.8z"/>
<path fill="#380f3d" d="M1402.6 464.1h32.8v22.1h-32.8z"/>
<path fill="#3c2878" d="M1795.7 1188.5h32.8v22.1h-32.8z"/>
<path fill="#ff4a02" d="M1259.6 888.7h32.8v22.1h-32.8zM1724.2 1163.5h32.8v22.1h-32.8zM1366.8 1238.5h32.8v22.1h-32.8z"/>
<path fill="#04e6ae" d="M1688.5 89.4h32.8v22.1h-32.8zM1795.7 114.4h32.8v22.1h-32.8zM1902.9 239.3h32.8v22.1h-32.8zM1402.6 614h32.8v22.1h-32.8zM1581.3 614h32.8v22.1h-32.8zM1795.7 614h32.8v22.1h-32.8zM1867.2 614h32.8v22.1h-32.8zM1581.3 713.9h32.8v22.1h-32.8zM1867.2 863.8h32.8v22.1h-32.8zM1402.6 888.7h32.8v22.1h-32.8zM1795.7 888.7h32.8v22.1h-32.8zM1581.3 988.7h32.8v22.1h-32.8zM1438.3 1038.6h32.8v22.1h-32.8zM1831.4 1038.6h32.8v22.1h-32.8zM1795.7 1088.6h32.8v22.1h-32.8zM1867.2 1113.6h32.8v22.1h-32.8zM1581.3 1138.5h32.8v22.1h-32.8zM1831.4 1163.5h32.8v22.1h-32.8zM1867.2 1263.4h32.8v22.1h-32.8zM1760 1288.4h32.8v22.1h-32.8z"/>
<path fill="#e3da12" d="M1295.3 89.4h32.8v22.1h-32.8zM1617 89.4h32.8v22.1h-32.8zM1617 114.4h32.8v22.1h-32.8zM1688.5 414.1h32.8v22.1h-32.8zM1724.2 464.1h32.8v22.1h-32.8zM1902.9 489.1h32.8v22.1h-32.8zM1831.4 564h32.8v22.1h-32.8zM1331.1 688.9h32.8v22.1h-32.8zM1617 688.9h32.8v22.1h-32.8zM1724.2 688.9h32.8v22.1h-32.8zM1545.5 988.7h32.8v22.1h-32.8zM1974.4 988.7h32.8v22.1h-32.8zM1331.1 1013.6h32.8v22.1h-32.8zM1509.8 1013.6h32.8v22.1h-32.8zM1402.6 1038.6h32.8v22.1h-32.8zM1474 1038.6h32.8v22.1h-32.8zM1331.1 1088.6h32.8v22.1h-32.8zM1545.5 1113.6h32.8v22.1h-32.8zM1831.4 1113.6h32.8v22.1h-32.8zM1902.9 1113.6h32.8v22.1h-32.8zM1938.7 1113.6h32.8v22.1h-32.8zM1331.1 1238.5h32.8v22.1h-32.8zM1831.4 1288.4h32.8v22.1h-32.8z"/>
<path fill="#12b4ef" d="M1402.6 688.9h32.8v22.1h-32.8zM1867.2 1013.6h32.8v22.1h-32.8zM1581.3 1063.6h32.8v22.1h-32.8zM1760 1113.6h32.8v22.1h-32.8zM1581.3 1163.5h32.8v22.1h-32.8z"/>
<path fill="#11cfd6" d="M1331.1 464.1h32.8v22.1h-32.8zM2010.1 614h32.8v22.1h-32.8zM1509.8 688.9h32.8v22.1h-32.8zM1581.3 1038.6h32.8v22.1h-32.8zM1652.7 1038.6h32.8v22.1h-32.8zM1581.3 1113.6h32.8v22.1h-32.8zM1402.6 1163.5h32.8v22.1h-32.8zM1581.3 1238.5h32.8v22.1h-32.8zM1760 1238.5h32.8v22.1h-32.8zM1938.7 1238.5h32.8v22.1h-32.8zM1581.3 1288.4h32.8v22.1h-32.8z"/>
<path fill="#62f80e" d="M1259.6 89.4h32.8v22.1h-32.8zM1366.8 89.4h32.8v22.1h-32.8zM1581.3 89.4h32.8v22.1h-32.8zM1724.2 89.4h32.8v22.1h-32.8zM1760 89.4h32.8v22.1h-32.8zM1831.4 89.4h32.8v22.1h-32.8zM1867.2 89.4h32.8v22.1h-32.8zM2010.1 89.4h32.8v22.1h-32.8zM1509.8 114.4h32.8v22.1h-32.8zM1581.3 114.4h32.8v22.1h-32.8zM1831.4 114.4h32.8v22.1h-32.8zM1902.9 114.4h32.8v22.1h-32.8zM1974.4 114.4h32.8v22.1h-32.8zM1295.3 139.3h32.8v22.1h-32.8zM1331.1 139.3h32.8v22.1h-32.8zM1366.8 139.3h32.8v22.1h-32.8zM1545.5 139.3h32.8v22.1h-32.8zM1581.3 139.3h32.8v22.1h-32.8zM1652.7 139.3h32.8v22.1h-32.8zM1688.5 139.3h32.8v22.1h-32.8zM1724.2 139.3h32.8v22.1h-32.8zM1760 139.3h32.8v22.1h-32.8zM1867.2 139.3h32.8v22.1h-32.8zM1938.7 139.3h32.8v22.1h-32.8zM1974.4 139.3h32.8v22.1h-32.8zM2010.1 139.3h32.8v22.1h-32.8zM1366.8 164.3h32.8v22.1h-32.8zM1438.3 164.3h32.8v22.1h-32.8zM1545.5 164.3h32.8v22.1h-32.8zM1652.7 164.3h32.8v22.1h-32.8zM1724.2 164.3h32.8v22.1h-32.8zM1867.2 164.3h32.8v22.1h-32.8zM1902.9 164.3h32.8v22.1h-32.8zM1974.4 164.3h32.8v22.1h-32.8zM2010.1 164.3h32.8v22.1h-32.8zM1366.8 189.3h32.8v22.1h-32.8zM1402.6 189.3h32.8v22.1h-32.8zM1438.3 189.3h32.8v22.1h-32.8zM1474 189.3h32.8v22.1h-32.8zM1545.5 189.3h32.8v22.1h-32.8zM1581.3 189.3h32.8v22.1h-32.8zM1617 189.3h32.8v22.1h-32.8zM1760 189.3h32.8v22.1h-32.8zM1867.2 189.3h32.8v22.1h-32.8zM1902.9 189.3h32.8v22.1h-32.8zM1938.7 189.3h32.8v22.1h-32.8zM1974.4 189.3h32.8v22.1h-32.8zM2010.1 189.3h32.8v22.1h-32.8zM1402.6 214.3h32.8v22.1h-32.8zM1438.3 214.3h32.8v22.1h-32.8zM1867.2 214.3h32.8v22.1h-32.8zM1902.9 214.3h32.8v22.1h-32.8zM1938.7 214.3h32.8v22.1h-32.8zM1974.4 214.3h32.8v22.1h-32.8zM1402.6 239.3h32.8v22.1h-32.8zM1545.5 239.3h32.8v22.1h-32.8zM1581.3 239.3h32.8v22.1h-32.8zM1795.7 239.3h32.8v22.1h-32.8zM1867.2 264.2h32.8v22.1h-32.8zM1902.9 264.2h32.8v22.1h-32.8zM1938.7 264.2h32.8v22.1h-32.8zM2010.1 264.2h32.8v22.1h-32.8zM1366.8 289.2h32.8v22.1h-32.8zM1402.6 289.2h32.8v22.1h-32.8zM1438.3 289.2h32.8v22.1h-32.8zM1474 289.2h32.8v22.1h-32.8zM1545.5 289.2h32.8v22.1h-32.8zM1581.3 289.2h32.8v22.1h-32.8zM1724.2 289.2h32.8v22.1h-32.8zM1867.2 289.2h32.8v22.1h-32.8zM1902.9 289.2h32.8v22.1h-32.8zM1974.4 289.2h32.8v22.1h-32.8zM2010.1 289.2h32.8v22.1h-32.8zM1366.8 314.2h32.8v22.1h-32.8zM1402.6 314.2h32.8v22.1h-32.8zM1438.3 314.2h32.8v22.1h-32.8zM1474 314.2h32.8v22.1h-32.8zM1509.8 314.2h32.8v22.1h-32.8zM1545.5 314.2h32.8v22.1h-32.8zM1581.3 314.2h32.8v22.1h-32.8zM1724.2 314.2h32.8v22.1h-32.8zM1760 314.2h32.8v22.1h-32.8zM1795.7 314.2h32.8v22.1h-32.8zM1831.4 314.2h32.8v22.1h-32.8zM1867.2 314.2h32.8v22.1h-32.8zM1902.9 314.2h32.8v22.1h-32.8zM1938.7 314.2h32.8v22.1h-32.8zM1974.4 314.2h32.8v22.1h-32.8zM2010.1 314.2h32.8v22.1h-32.8zM1259.6 339.2h32.8v22.1h-32.8zM1295.3 339.2h32.8v22.1h-32.8zM1366.8 339.2h32.8v22.1h-32.8zM1402.6 339.2h32.8v22.1h-32.8zM1474 339.2h32.8v22.1h-32.8zM1509.8 339.2h32.8v22.1h-32.8zM1545.5 339.2h32.8v22.1h-32.8zM1581.3 339.2h32.8v22.1h-32.8zM1724.2 339.2h32.8v22.1h-32.8zM1760 339.2h32.8v22.1h-32.8zM1795.7 339.2h32.8v22.1h-32.8zM1831.4 339.2h32.8v22.1h-32.8zM1867.2 339.2h32.8v22.1h-32.8zM1902.9 339.2h32.8v22.1h-32.8zM1938.7 339.2h32.8v22.1h-32.8zM1974.4 339.2h32.8v22.1h-32.8zM2010.1 339.2h32.8v22.1h-32.8zM1259.6 364.2h32.8v22.1h-32.8zM1331.1 364.2h32.8v22.1h-32.8zM1366.8 364.2h32.8v22.1h-32.8zM1402.6 364.2h32.8v22.1h-32.8zM1438.3 364.2h32.8v22.1h-32.8zM1509.8 364.2h32.8v22.1h-32.8zM1545.5 364.2h32.8v22.1h-32.8zM1581.3 364.2h32.8v22.1h-32.8zM1724.2 364.2h32.8v22.1h-32.8zM1760 364.2h32.8v22.1h-32.8zM1795.7 364.2h32.8v22.1h-32.8zM1831.4 364.2h32.8v22.1h-32.8zM1867.2 364.2h32.8v22.1h-32.8zM1902.9 364.2h32.8v22.1h-32.8zM1938.7 364.2h32.8v22.1h-32.8zM1974.4 364.2h32.8v22.1h-32.8zM2010.1 364.2h32.8v22.1h-32.8zM1331.1 389.1h32.8v22.1h-32.8zM1366.8 389.1h32.8v22.1h-32.8zM1402.6 389.1h32.8v22.1h-32.8zM1438.3 389.1h32.8v22.1h-32.8zM1581.3 389.1h32.8v22.1h-32.8zM1688.5 389.1h32.8v22.1h-32.8zM1724.2 389.1h32.8v22.1h-32.8zM1760 389.1h32.8v22.1h-32.8zM1795.7 389.1h32.8v22.1h-32.8zM1831.4 389.1h32.8v22.1h-32.8zM1867.2 389.1h32.8v22.1h-32.8zM1902.9 389.1h32.8v22.1h-32.8zM1402.6 414.1h32.8v22.1h-32.8zM1545.5 414.1h32.8v22.1h-32.8zM1724.2 414.1h32.8v22.1h-32.8zM1760 414.1h32.8v22.1h-32.8zM1795.7 414.1h32.8v22.1h-32.8zM1831.4 414.1h32.8v22.1h-32.8zM1474 439.1h32.8v22.1h-32.8zM1509.8 439.1h32.8v22.1h-32.8zM1545.5 439.1h32.8v22.1h-32.8zM1581.3 439.1h32.8v22.1h-32.8zM1688.5 439.1h32.8v22.1h-32.8zM1831.4 439.1h32.8v22.1h-32.8zM1545.5 464.1h32.8v22.1h-32.8zM1688.5 464.1h32.8v22.1h-32.8zM1760 464.1h32.8v22.1h-32.8zM1795.7 464.1h32.8v22.1h-32.8zM1902.9 464.1h32.8v22.1h-32.8zM1366.8 489.1h32.8v22.1h-32.8zM1545.5 489.1h32.8v22.1h-32.8zM1688.5 489.1h32.8v22.1h-32.8zM1795.7 489.1h32.8v22.1h-32.8zM1331.1 514h32.8v22.1h-32.8zM1581.3 514h32.8v22.1h-32.8zM1688.5 514h32.8v22.1h-32.8zM1724.2 514h32.8v22.1h-32.8zM1760 514h32.8v22.1h-32.8zM1795.7 514h32.8v22.1h-32.8zM1831.4 514h32.8v22.1h-32.8zM1867.2 514h32.8v22.1h-32.8zM1295.3 539h32.8v22.1h-32.8zM1331.1 539h32.8v22.1h-32.8zM1366.8 539h32.8v22.1h-32.8zM1402.6 539h32.8v22.1h-32.8zM1438.3 539h32.8v22.1h-32.8zM1474 539h32.8v22.1h-32.8zM1509.8 539h32.8v22.1h-32.8zM1545.5 539h32.8v22.1h-32.8zM1581.3 539h32.8v22.1h-32.8zM1724.2 539h32.8v22.1h-32.8zM1760 539h32.8v22.1h-32.8zM1867.2 539h32.8v22.1h-32.8zM1902.9 539h32.8v22.1h-32.8zM1938.7 539h32.8v22.1h-32.8zM1974.4 539h32.8v22.1h-32.8zM2010.1 539h32.8v22.1h-32.8zM1402.6 564h32.8v22.1h-32.8zM1509.8 564h32.8v22.1h-32.8zM1760 564h32.8v22.1h-32.8zM1366.8 589h32.8v22.1h-32.8zM1402.6 589h32.8v22.1h-32.8zM1438.3 589h32.8v22.1h-32.8zM1509.8 589h32.8v22.1h-32.8zM1545.5 589h32.8v22.1h-32.8zM1724.2 589h32.8v22.1h-32.8zM1760 589h32.8v22.1h-32.8zM1795.7 589h32.8v22.1h-32.8zM1831.4 589h32.8v22.1h-32.8zM1867.2 589h32.8v22.1h-32.8zM1902.9 589h32.8v22.1h-32.8zM1974.4 589h32.8v22.1h-32.8zM2010.1 589h32.8v22.1h-32.8zM1545.5 614h32.8v22.1h-32.8zM1760 614h32.8v22.1h-32.8zM1974.4 614h32.8v22.1h-32.8zM1295.3 638.9h32.8v22.1h-32.8zM1366.8 638.9h32.8v22.1h-32.8zM1402.6 638.9h32.8v22.1h-32.8zM1438.3 638.9h32.8v22.1h-32.8zM1474 638.9h32.8v22.1h-32.8zM1509.8 638.9h32.8v22.1h-32.8zM1545.5 638.9h32.8v22.1h-32.8zM1581.3 638.9h32.8v22.1h-32.8zM1760 638.9h32.8v22.1h-32.8zM1867.2 638.9h32.8v22.1h-32.8zM1902.9 638.9h32.8v22.1h-32.8zM1938.7 638.9h32.8v22.1h-32.8zM1974.4 638.9h32.8v22.1h-32.8zM2010.1 638.9h32.8v22.1h-32.8zM1402.6 663.9h32.8v22.1h-32.8zM1509.8 663.9h32.8v22.1h-32.8zM1760 663.9h32.8v22.1h-32.8zM1795.7 663.9h32.8v22.1h-32.8zM1831.4 663.9h32.8v22.1h-32.8zM1867.2 663.9h32.8v22.1h-32.8zM1902.9 663.9h32.8v22.1h-32.8zM1331.1 713.9h32.8v22.1h-32.8zM1474 713.9h32.8v22.1h-32.8zM1688.5 713.9h32.8v22.1h-32.8zM1867.2 713.9h32.8v22.1h-32.8zM2010.1 713.9h32.8v22.1h-32.8zM1259.6 738.9h32.8v22.1h-32.8zM1366.8 738.9h32.8v22.1h-32.8zM1402.6 738.9h32.8v22.1h-32.8zM1831.4 738.9h32.8v22.1h-32.8zM1902.9 738.9h32.8v22.1h-32.8zM1938.7 738.9h32.8v22.1h-32.8zM1974.4 738.9h32.8v22.1h-32.8zM2010.1 738.9h32.8v22.1h-32.8zM1402.6 763.8h32.8v22.1h-32.8zM1438.3 763.8h32.8v22.1h-32.8zM1474 763.8h32.8v22.1h-32.8zM1509.8 763.8h32.8v22.1h-32.8zM1545.5 763.8h32.8v22.1h-32.8zM1581.3 763.8h32.8v22.1h-32.8zM1617 763.8h32.8v22.1h-32.8zM1652.7 763.8h32.8v22.1h-32.8zM1688.5 763.8h32.8v22.1h-32.8zM1724.2 763.8h32.8v22.1h-32.8zM1760 763.8h32.8v22.1h-32.8zM1795.7 763.8h32.8v22.1h-32.8zM1831.4 763.8h32.8v22.1h-32.8zM1867.2 763.8h32.8v22.1h-32.8zM1902.9 763.8h32.8v22.1h-32.8zM1938.7 763.8h32.8v22.1h-32.8zM1974.4 763.8h32.8v22.1h-32.8zM2010.1 763.8h32.8v22.1h-32.8zM1295.3 788.8h32.8v22.1h-32.8zM1331.1 788.8h32.8v22.1h-32.8zM1366.8 788.8h32.8v22.1h-32.8zM1402.6 788.8h32.8v22.1h-32.8zM1438.3 788.8h32.8v22.1h-32.8zM1474 788.8h32.8v22.1h-32.8zM1509.8 788.8h32.8v22.1h-32.8zM1545.5 788.8h32.8v22.1h-32.8zM1581.3 788.8h32.8v22.1h-32.8zM1617 788.8h32.8v22.1h-32.8zM1652.7 788.8h32.8v22.1h-32.8zM1688.5 788.8h32.8v22.1h-32.8zM1724.2 788.8h32.8v22.1h-32.8zM1760 788.8h32.8v22.1h-32.8zM1795.7 788.8h32.8v22.1h-32.8zM1831.4 788.8h32.8v22.1h-32.8zM1867.2 788.8h32.8v22.1h-32.8zM1902.9 788.8h32.8v22.1h-32.8zM1938.7 788.8h32.8v22.1h-32.8zM1974.4 788.8h32.8v22.1h-32.8zM2010.1 788.8h32.8v22.1h-32.8zM1366.8 813.8h32.8v22.1h-32.8zM1545.5 813.8h32.8v22.1h-32.8zM1652.7 813.8h32.8v22.1h-32.8zM1974.4 813.8h32.8v22.1h-32.8zM2010.1 813.8h32.8v22.1h-32.8zM1295.3 838.8h32.8v22.1h-32.8zM1545.5 838.8h32.8v22.1h-32.8zM1581.3 838.8h32.8v22.1h-32.8zM1617 838.8h32.8v22.1h-32.8zM1760 838.8h32.8v22.1h-32.8zM1795.7 838.8h32.8v22.1h-32.8zM1831.4 838.8h32.8v22.1h-32.8zM1867.2 838.8h32.8v22.1h-32.8zM1295.3 863.8h32.8v22.1h-32.8zM1331.1 863.8h32.8v22.1h-32.8zM1474 863.8h32.8v22.1h-32.8zM1509.8 863.8h32.8v22.1h-32.8zM1545.5 863.8h32.8v22.1h-32.8zM1581.3 863.8h32.8v22.1h-32.8zM1617 863.8h32.8v22.1h-32.8zM1724.2 863.8h32.8v22.1h-32.8zM1760 863.8h32.8v22.1h-32.8zM2010.1 863.8h32.8v22.1h-32.8zM1438.3 888.7h32.8v22.1h-32.8zM1617 888.7h32.8v22.1h-32.8zM1295.3 913.7h32.8v22.1h-32.8zM1331.1 913.7h32.8v22.1h-32.8zM1366.8 913.7h32.8v22.1h-32.8zM1402.6 913.7h32.8v22.1h-32.8zM1438.3 913.7h32.8v22.1h-32.8zM1474 913.7h32.8v22.1h-32.8zM1509.8 913.7h32.8v22.1h-32.8zM1617 913.7h32.8v22.1h-32.8zM1652.7 913.7h32.8v22.1h-32.8zM1688.5 913.7h32.8v22.1h-32.8zM1724.2 913.7h32.8v22.1h-32.8zM1760 913.7h32.8v22.1h-32.8zM1795.7 913.7h32.8v22.1h-32.8zM1831.4 913.7h32.8v22.1h-32.8zM1867.2 913.7h32.8v22.1h-32.8zM1902.9 913.7h32.8v22.1h-32.8zM1938.7 913.7h32.8v22.1h-32.8zM1974.4 913.7h32.8v22.1h-32.8zM2010.1 913.7h32.8v22.1h-32.8zM1295.3 938.7h32.8v22.1h-32.8zM1331.1 938.7h32.8v22.1h-32.8zM1366.8 938.7h32.8v22.1h-32.8zM1438.3 938.7h32.8v22.1h-32.8zM1474 938.7h32.8v22.1h-32.8zM1509.8 938.7h32.8v22.1h-32.8zM1545.5 938.7h32.8v22.1h-32.8zM1617 938.7h32.8v22.1h-32.8zM1688.5 938.7h32.8v22.1h-32.8zM1760 938.7h32.8v22.1h-32.8zM1795.7 938.7h32.8v22.1h-32.8zM1831.4 938.7h32.8v22.1h-32.8zM1867.2 938.7h32.8v22.1h-32.8zM1902.9 938.7h32.8v22.1h-32.8zM1938.7 938.7h32.8v22.1h-32.8zM1295.3 963.7h32.8v22.1h-32.8zM1366.8 963.7h32.8v22.1h-32.8zM1438.3 963.7h32.8v22.1h-32.8zM1474 963.7h32.8v22.1h-32.8zM1617 963.7h32.8v22.1h-32.8zM1867.2 963.7h32.8v22.1h-32.8zM1402.6 988.7h32.8v22.1h-32.8zM1438.3 1013.6h32.8v22.1h-32.8zM1688.5 1013.6h32.8v22.1h-32.8zM1724.2 1013.6h32.8v22.1h-32.8zM1509.8 1038.6h32.8v22.1h-32.8zM1509.8 1063.6h32.8v22.1h-32.8zM1652.7 1063.6h32.8v22.1h-32.8zM1724.2 1063.6h32.8v22.1h-32.8zM1867.2 1063.6h32.8v22.1h-32.8zM1902.9 1063.6h32.8v22.1h-32.8zM1974.4 1063.6h32.8v22.1h-32.8zM1831.4 1088.6h32.8v22.1h-32.8zM2010.1 1113.6h32.8v22.1h-32.8zM1438.3 1138.5h32.8v22.1h-32.8zM1509.8 1138.5h32.8v22.1h-32.8zM1724.2 1138.5h32.8v22.1h-32.8zM1795.7 1138.5h32.8v22.1h-32.8zM1867.2 1138.5h32.8v22.1h-32.8zM1902.9 1138.5h32.8v22.1h-32.8zM1938.7 1138.5h32.8v22.1h-32.8zM1974.4 1138.5h32.8v22.1h-32.8zM2010.1 1138.5h32.8v22.1h-32.8zM1509.8 1163.5h32.8v22.1h-32.8zM1652.7 1163.5h32.8v22.1h-32.8zM1688.5 1163.5h32.8v22.1h-32.8zM1402.6 1188.5h32.8v22.1h-32.8zM1509.8 1188.5h32.8v22.1h-32.8zM1581.3 1188.5h32.8v22.1h-32.8zM1938.7 1188.5h32.8v22.1h-32.8zM1545.5 1213.5h32.8v22.1h-32.8zM1581.3 1213.5h32.8v22.1h-32.8zM2010.1 1213.5h32.8v22.1h-32.8zM1509.8 1238.5h32.8v22.1h-32.8zM1867.2 1238.5h32.8v22.1h-32.8zM1509.8 1263.4h32.8v22.1h-32.8zM1938.7 1263.4h32.8v22.1h-32.8zM1652.7 1288.4h32.8v22.1h-32.8zM1724.2 1288.4h32.8v22.1h-32.8zM1974.4 1288.4h32.8v22.1h-32.8z"/>
<path fill="#9af202" d="M1652.7 89.4h32.8v22.1h-32.8zM1795.7 89.4h32.8v22.1h-32.8zM1902.9 89.4h32.8v22.1h-32.8zM1938.7 89.4h32.8v22.1h-32.8zM1974.4 89.4h32.8v22.1h-32.8zM1688.5 114.4h32.8v22.1h-32.8zM1760 114.4h32.8v22.1h-32.8zM1259.6 139.3h32.8v22.1h-32.8zM1509.8 139.3h32.8v22.1h-32.8zM1617 139.3h32.8v22.1h-32.8zM1795.7 139.3h32.8v22.1h-32.8zM1902.9 139.3h32.8v22.1h-32.8zM1474 164.3h32.8v22.1h-32.8zM1509.8 164.3h32.8v22.1h-32.8zM1831.4 164.3h32.8v22.1h-32.8zM1509.8 189.3h32.8v22.1h-32.8zM1688.5 189.3h32.8v22.1h-32.8zM1724.2 189.3h32.8v22.1h-32.8zM1795.7 189.3h32.8v22.1h-32.8zM1831.4 189.3h32.8v22.1h-32.8zM1366.8 214.3h32.8v22.1h-32.8zM1760 214.3h32.8v22.1h-32.8zM1724.2 239.3h32.8v22.1h-32.8zM1938.7 239.3h32.8v22.1h-32.8zM2010.1 239.3h32.8v22.1h-32.8zM1402.6 264.2h32.8v22.1h-32.8zM1438.3 264.2h32.8v22.1h-32.8zM1509.8 264.2h32.8v22.1h-32.8zM1974.4 264.2h32.8v22.1h-32.8zM1509.8 289.2h32.8v22.1h-32.8zM1795.7 289.2h32.8v22.1h-32.8zM1831.4 289.2h32.8v22.1h-32.8zM1938.7 289.2h32.8v22.1h-32.8zM1331.1 339.2h32.8v22.1h-32.8zM1438.3 339.2h32.8v22.1h-32.8zM1295.3 364.2h32.8v22.1h-32.8zM1474 364.2h32.8v22.1h-32.8zM1295.3 389.1h32.8v22.1h-32.8zM1474 389.1h32.8v22.1h-32.8zM1974.4 389.1h32.8v22.1h-32.8zM1974.4 414.1h32.8v22.1h-32.8zM2010.1 414.1h32.8v22.1h-32.8zM1295.3 439.1h32.8v22.1h-32.8zM1366.8 439.1h32.8v22.1h-32.8zM1724.2 439.1h32.8v22.1h-32.8zM1938.7 439.1h32.8v22.1h-32.8zM1974.4 439.1h32.8v22.1h-32.8zM1438.3 464.1h32.8v22.1h-32.8zM1509.8 464.1h32.8v22.1h-32.8zM1581.3 464.1h32.8v22.1h-32.8zM1617 464.1h32.8v22.1h-32.8zM1831.4 464.1h32.8v22.1h-32.8zM1938.7 464.1h32.8v22.1h-32.8zM1295.3 489.1h32.8v22.1h-32.8zM1509.8 489.1h32.8v22.1h-32.8zM1581.3 489.1h32.8v22.1h-32.8zM1831.4 489.1h32.8v22.1h-32.8zM2010.1 489.1h32.8v22.1h-32.8zM1366.8 514h32.8v22.1h-32.8zM1474 514h32.8v22.1h-32.8zM1545.5 514h32.8v22.1h-32.8zM1652.7 514h32.8v22.1h-32.8zM1366.8 564h32.8v22.1h-32.8zM1902.9 564h32.8v22.1h-32.8zM1474 589h32.8v22.1h-32.8zM1581.3 589h32.8v22.1h-32.8zM1938.7 589h32.8v22.1h-32.8zM1509.8 614h32.8v22.1h-32.8zM1331.1 638.9h32.8v22.1h-32.8zM1724.2 638.9h32.8v22.1h-32.8zM1331.1 663.9h32.8v22.1h-32.8zM1366.8 663.9h32.8v22.1h-32.8zM1474 663.9h32.8v22.1h-32.8zM1581.3 663.9h32.8v22.1h-32.8zM1724.2 663.9h32.8v22.1h-32.8zM1295.3 688.9h32.8v22.1h-32.8zM1295.3 713.9h32.8v22.1h-32.8zM1545.5 713.9h32.8v22.1h-32.8zM1652.7 713.9h32.8v22.1h-32.8zM1724.2 713.9h32.8v22.1h-32.8zM1795.7 713.9h32.8v22.1h-32.8zM1831.4 713.9h32.8v22.1h-32.8zM1938.7 713.9h32.8v22.1h-32.8zM1974.4 713.9h32.8v22.1h-32.8zM1474 738.9h32.8v22.1h-32.8zM1509.8 738.9h32.8v22.1h-32.8zM1652.7 738.9h32.8v22.1h-32.8zM1724.2 738.9h32.8v22.1h-32.8zM1760 738.9h32.8v22.1h-32.8zM1259.6 763.8h32.8v22.1h-32.8zM1259.6 813.8h32.8v22.1h-32.8zM1331.1 813.8h32.8v22.1h-32.8zM1438.3 813.8h32.8v22.1h-32.8zM1474 813.8h32.8v22.1h-32.8zM1509.8 813.8h32.8v22.1h-32.8zM1617 813.8h32.8v22.1h-32.8zM1688.5 813.8h32.8v22.1h-32.8zM1724.2 813.8h32.8v22.1h-32.8zM1831.4 813.8h32.8v22.1h-32.8zM1902.9 813.8h32.8v22.1h-32.8zM1938.7 813.8h32.8v22.1h-32.8zM1259.6 838.8h32.8v22.1h-32.8zM1331.1 838.8h32.8v22.1h-32.8zM1366.8 838.8h32.8v22.1h-32.8zM1474 838.8h32.8v22.1h-32.8zM1509.8 838.8h32.8v22.1h-32.8zM1724.2 838.8h32.8v22.1h-32.8zM1902.9 838.8h32.8v22.1h-32.8zM1938.7 838.8h32.8v22.1h-32.8zM1974.4 838.8h32.8v22.1h-32.8zM1259.6 863.8h32.8v22.1h-32.8zM1438.3 863.8h32.8v22.1h-32.8zM1688.5 863.8h32.8v22.1h-32.8zM1474 888.7h32.8v22.1h-32.8zM1509.8 888.7h32.8v22.1h-32.8zM1402.6 938.7h32.8v22.1h-32.8zM1652.7 938.7h32.8v22.1h-32.8zM1974.4 938.7h32.8v22.1h-32.8zM1509.8 963.7h32.8v22.1h-32.8zM1545.5 963.7h32.8v22.1h-32.8zM1652.7 963.7h32.8v22.1h-32.8zM1688.5 963.7h32.8v22.1h-32.8zM1831.4 963.7h32.8v22.1h-32.8zM1902.9 963.7h32.8v22.1h-32.8zM1938.7 963.7h32.8v22.1h-32.8zM1974.4 963.7h32.8v22.1h-32.8zM1331.1 988.7h32.8v22.1h-32.8zM1795.7 988.7h32.8v22.1h-32.8zM1938.7 988.7h32.8v22.1h-32.8zM1366.8 1013.6h32.8v22.1h-32.8zM1974.4 1013.6h32.8v22.1h-32.8zM1795.7 1038.6h32.8v22.1h-32.8zM2010.1 1038.6h32.8v22.1h-32.8zM1331.1 1063.6h32.8v22.1h-32.8zM1366.8 1063.6h32.8v22.1h-32.8zM1474 1063.6h32.8v22.1h-32.8zM1617 1063.6h32.8v22.1h-32.8zM1688.5 1063.6h32.8v22.1h-32.8zM1831.4 1063.6h32.8v22.1h-32.8zM1938.7 1063.6h32.8v22.1h-32.8zM1402.6 1088.6h32.8v22.1h-32.8zM1438.3 1088.6h32.8v22.1h-32.8zM1474 1088.6h32.8v22.1h-32.8zM1545.5 1088.6h32.8v22.1h-32.8zM1652.7 1088.6h32.8v22.1h-32.8zM1902.9 1088.6h32.8v22.1h-32.8zM2010.1 1088.6h32.8v22.1h-32.8zM1652.7 1113.6h32.8v22.1h-32.8zM1795.7 1113.6h32.8v22.1h-32.8zM1974.4 1113.6h32.8v22.1h-32.8zM1331.1 1138.5h32.8v22.1h-32.8zM1474 1138.5h32.8v22.1h-32.8zM1545.5 1138.5h32.8v22.1h-32.8zM1652.7 1138.5h32.8v22.1h-32.8zM1688.5 1138.5h32.8v22.1h-32.8zM1366.8 1163.5h32.8v22.1h-32.8zM1867.2 1163.5h32.8v22.1h-32.8zM1938.7 1163.5h32.8v22.1h-32.8zM1366.8 1188.5h32.8v22.1h-32.8zM1474 1188.5h32.8v22.1h-32.8zM1724.2 1188.5h32.8v22.1h-32.8zM1831.4 1213.5h32.8v22.1h-32.8zM1795.7 1238.5h32.8v22.1h-32.8zM1652.7 1263.4h32.8v22.1h-32.8zM1795.7 1263.4h32.8v22.1h-32.8zM1974.4 1263.4h32.8v22.1h-32.8zM1331.1 1288.4h32.8v22.1h-32.8zM1438.3 1288.4h32.8v22.1h-32.8z"/>
<path fill="#fec52a" d="M1938.7 114.4h32.8v22.1h-32.8zM1617 214.3h32.8v22.1h-32.8zM1474 414.1h32.8v22.1h-32.8zM1902.9 439.1h32.8v22.1h-32.8zM1902.9 614h32.8v22.1h-32.8zM1760 688.9h32.8v22.1h-32.8zM1617 713.9h32.8v22.1h-32.8zM1366.8 888.7h32.8v22.1h-32.8zM1724.2 888.7h32.8v22.1h-32.8zM1867.2 888.7h32.8v22.1h-32.8zM1259.6 988.7h32.8v22.1h-32.8zM1295.3 988.7h32.8v22.1h-32.8zM1724.2 988.7h32.8v22.1h-32.8zM1831.4 1013.6h32.8v22.1h-32.8zM1331.1 1038.6h32.8v22.1h-32.8zM1545.5 1038.6h32.8v22.1h-32.8zM1724.2 1038.6h32.8v22.1h-32.8zM1902.9 1038.6h32.8v22.1h-32.8zM1688.5 1188.5h32.8v22.1h-32.8zM1366.8 1213.5h32.8v22.1h-32.8zM1902.9 1213.5h32.8v22.1h-32.8zM1617 1238.5h32.8v22.1h-32.8zM1545.5 1263.4h32.8v22.1h-32.8zM1724.2 1263.4h32.8v22.1h-32.8zM1474 1288.4h32.8v22.1h-32.8zM1545.5 1288.4h32.8v22.1h-32.8zM1617 1288.4h32.8v22.1h-32.8zM1938.7 1288.4h32.8v22.1h-32.8z"/>
<path fill="#ff6c0c" d="M1366.8 688.9h32.8v22.1h-32.8zM1617 1038.6h32.8v22.1h-32.8zM1331.1 1163.5h32.8v22.1h-32.8zM1438.3 1163.5h32.8v22.1h-32.8z"/>
<path fill="#05f27c" d="M1545.5 89.4h32.8v22.1h-32.8zM1259.6 114.4h32.8v22.1h-32.8zM1652.7 114.4h32.8v22.1h-32.8zM1581.3 214.3h32.8v22.1h-32.8zM1795.7 214.3h32.8v22.1h-32.8zM1831.4 239.3h32.8v22.1h-32.8zM1795.7 264.2h32.8v22.1h-32.8zM2010.1 389.1h32.8v22.1h-32.8zM1438.3 414.1h32.8v22.1h-32.8zM1581.3 414.1h32.8v22.1h-32.8zM1867.2 414.1h32.8v22.1h-32.8zM1795.7 439.1h32.8v22.1h-32.8zM1867.2 489.1h32.8v22.1h-32.8zM1938.7 489.1h32.8v22.1h-32.8zM1438.3 564h32.8v22.1h-32.8zM1795.7 564h32.8v22.1h-32.8zM1867.2 564h32.8v22.1h-32.8zM1438.3 688.9h32.8v22.1h-32.8zM1652.7 688.9h32.8v22.1h-32.8zM2010.1 688.9h32.8v22.1h-32.8zM1366.8 713.9h32.8v22.1h-32.8zM1581.3 738.9h32.8v22.1h-32.8zM1795.7 738.9h32.8v22.1h-32.8zM1795.7 813.8h32.8v22.1h-32.8zM1402.6 863.8h32.8v22.1h-32.8zM1545.5 888.7h32.8v22.1h-32.8zM1688.5 888.7h32.8v22.1h-32.8zM1974.4 888.7h32.8v22.1h-32.8zM2010.1 888.7h32.8v22.1h-32.8zM1438.3 988.7h32.8v22.1h-32.8zM1652.7 988.7h32.8v22.1h-32.8zM1760 988.7h32.8v22.1h-32.8zM1867.2 988.7h32.8v22.1h-32.8zM1295.3 1013.6h32.8v22.1h-32.8zM1760 1013.6h32.8v22.1h-32.8zM1295.3 1038.6h32.8v22.1h-32.8zM1366.8 1038.6h32.8v22.1h-32.8zM1760 1038.6h32.8v22.1h-32.8zM1867.2 1038.6h32.8v22.1h-32.8zM1366.8 1088.6h32.8v22.1h-32.8zM1509.8 1088.6h32.8v22.1h-32.8zM1581.3 1088.6h32.8v22.1h-32.8zM1724.2 1088.6h32.8v22.1h-32.8zM1366.8 1113.6h32.8v22.1h-32.8zM1366.8 1138.5h32.8v22.1h-32.8zM1474 1163.5h32.8v22.1h-32.8zM1617 1188.5h32.8v22.1h-32.8zM1652.7 1188.5h32.8v22.1h-32.8zM1902.9 1188.5h32.8v22.1h-32.8zM1867.2 1213.5h32.8v22.1h-32.8zM1688.5 1238.5h32.8v22.1h-32.8zM2010.1 1238.5h32.8v22.1h-32.8zM1366.8 1263.4h32.8v22.1h-32.8zM1760 1263.4h32.8v22.1h-32.8zM1831.4 1263.4h32.8v22.1h-32.8zM1366.8 1288.4h32.8v22.1h-32.8zM1402.6 1288.4h32.8v22.1h-32.8zM1509.8 1288.4h32.8v22.1h-32.8zM1902.9 1288.4h32.8v22.1h-32.8zM2010.1 1288.4h32.8v22.1h-32.8z"/>
<path fill="#c4e80a" d="M1509.8 89.4h32.8v22.1h-32.8zM1295.3 114.4h32.8v22.1h-32.8zM1366.8 114.4h32.8v22.1h-32.8zM1724.2 114.4h32.8v22.1h-32.8zM2010.1 114.4h32.8v22.1h-32.8zM1617 164.3h32.8v22.1h-32.8zM1760 164.3h32.8v22.1h-32.8zM1509.8 214.3h32.8v22.1h-32.8zM1724.2 214.3h32.8v22.1h-32.8zM1831.4 214.3h32.8v22.1h-32.8zM1509.8 239.3h32.8v22.1h-32.8zM1760 264.2h32.8v22.1h-32.8zM1831.4 264.2h32.8v22.1h-32.8zM1509.8 389.1h32.8v22.1h-32.8zM1938.7 389.1h32.8v22.1h-32.8zM1331.1 414.1h32.8v22.1h-32.8zM1366.8 414.1h32.8v22.1h-32.8zM1509.8 414.1h32.8v22.1h-32.8zM1902.9 414.1h32.8v22.1h-32.8zM1438.3 439.1h32.8v22.1h-32.8zM1724.2 489.1h32.8v22.1h-32.8zM1760 489.1h32.8v22.1h-32.8zM1295.3 514h32.8v22.1h-32.8zM1974.4 514h32.8v22.1h-32.8zM1831.4 539h32.8v22.1h-32.8zM1474 564h32.8v22.1h-32.8zM1938.7 564h32.8v22.1h-32.8zM1974.4 564h32.8v22.1h-32.8zM1366.8 614h32.8v22.1h-32.8zM1831.4 614h32.8v22.1h-32.8zM1938.7 614h32.8v22.1h-32.8zM1831.4 638.9h32.8v22.1h-32.8zM1974.4 663.9h32.8v22.1h-32.8zM1545.5 688.9h32.8v22.1h-32.8zM1974.4 688.9h32.8v22.1h-32.8zM1438.3 713.9h32.8v22.1h-32.8zM1331.1 738.9h32.8v22.1h-32.8zM1545.5 738.9h32.8v22.1h-32.8zM1867.2 738.9h32.8v22.1h-32.8zM1366.8 763.8h32.8v22.1h-32.8zM1760 813.8h32.8v22.1h-32.8zM1688.5 838.8h32.8v22.1h-32.8zM1366.8 863.8h32.8v22.1h-32.8zM1795.7 863.8h32.8v22.1h-32.8zM1831.4 863.8h32.8v22.1h-32.8zM1902.9 863.8h32.8v22.1h-32.8zM1938.7 863.8h32.8v22.1h-32.8zM1652.7 888.7h32.8v22.1h-32.8zM1831.4 888.7h32.8v22.1h-32.8zM1902.9 888.7h32.8v22.1h-32.8zM1259.6 913.7h32.8v22.1h-32.8zM1331.1 963.7h32.8v22.1h-32.8zM1724.2 963.7h32.8v22.1h-32.8zM1474 988.7h32.8v22.1h-32.8zM1617 988.7h32.8v22.1h-32.8zM1902.9 988.7h32.8v22.1h-32.8zM1474 1013.6h32.8v22.1h-32.8zM1545.5 1013.6h32.8v22.1h-32.8zM1795.7 1013.6h32.8v22.1h-32.8zM1902.9 1013.6h32.8v22.1h-32.8zM1938.7 1013.6h32.8v22.1h-32.8zM1688.5 1038.6h32.8v22.1h-32.8zM1974.4 1038.6h32.8v22.1h-32.8zM1760 1063.6h32.8v22.1h-32.8zM1617 1088.6h32.8v22.1h-32.8zM1974.4 1088.6h32.8v22.1h-32.8zM1331.1 1113.6h32.8v22.1h-32.8zM1438.3 1113.6h32.8v22.1h-32.8zM1474 1113.6h32.8v22.1h-32.8zM1617 1113.6h32.8v22.1h-32.8zM1402.6 1138.5h32.8v22.1h-32.8zM1617 1138.5h32.8v22.1h-32.8zM1831.4 1138.5h32.8v22.1h-32.8zM1760 1163.5h32.8v22.1h-32.8zM1902.9 1163.5h32.8v22.1h-32.8zM1545.5 1188.5h32.8v22.1h-32.8zM1831.4 1188.5h32.8v22.1h-32.8zM1867.2 1188.5h32.8v22.1h-32.8zM1617 1213.5h32.8v22.1h-32.8zM1974.4 1213.5h32.8v22.1h-32.8zM1545.5 1238.5h32.8v22.1h-32.8zM1652.7 1238.5h32.8v22.1h-32.8zM1974.4 1238.5h32.8v22.1h-32.8zM1331.1 1263.4h32.8v22.1h-32.8zM1688.5 1263.4h32.8v22.1h-32.8zM1902.9 1263.4h32.8v22.1h-32.8z"/>
</g>
<path d="M1256.2 26.8V1373" stroke="#7a7a7a" stroke-width="2" fill="none"/>
<path d="M1255.2 1373H2048.8" stroke="#8c8c8c" stroke-width="2.4" fill="none"/>
<path d="M2047.8 26.8V1374" stroke="#8a8a8a" stroke-width="3.2" fill="none"/>
<path d="M1255.2 26.8H2049.3" stroke="#1c1c1c" stroke-width="2.8" fill="none"/>
<text class="tk" x="1236.2" y="289.5" text-anchor="end">60</text>
<text class="tk" x="1236.2" y="539.5" text-anchor="end">70</text>
<text class="tk" x="1236.2" y="789.6" text-anchor="end">80</text>
<text class="tk" x="1236.2" y="1039.7" text-anchor="end">90</text>
<text class="tk" x="1236.2" y="1289.7" text-anchor="end">100</text>
<path d="M1244.2 275.1H1256.2M1244.2 525.1H1256.2M1244.2 775.2H1256.2M1244.2 1025.2H1256.2M1244.2 1275.3H1256.2" stroke="#666" stroke-width="2.6" fill="none"/>
<text class="xt" transform="translate(1290.7 1392.8) rotate(-90)" text-anchor="end">1997</text>
<text class="xt" transform="translate(1326.4 1392.8) rotate(-90)" text-anchor="end">1998</text>
<text class="xt" transform="translate(1362.2 1392.8) rotate(-90)" text-anchor="end">1999</text>
<text class="xt" transform="translate(1397.9 1392.8) rotate(-90)" text-anchor="end">2000</text>
<text class="xt" transform="translate(1433.7 1392.8) rotate(-90)" text-anchor="end">2001</text>
<text class="xt" transform="translate(1469.4 1392.8) rotate(-90)" text-anchor="end">2002</text>
<text class="xt" transform="translate(1505.1 1392.8) rotate(-90)" text-anchor="end">2003</text>
<text class="xt" transform="translate(1540.9 1392.8) rotate(-90)" text-anchor="end">2004</text>
<text class="xt" transform="translate(1576.6 1392.8) rotate(-90)" text-anchor="end">2005</text>
<text class="xt" transform="translate(1612.4 1392.8) rotate(-90)" text-anchor="end">2006</text>
<text class="xt" transform="translate(1648.1 1392.8) rotate(-90)" text-anchor="end">2007</text>
<text class="xt" transform="translate(1683.8 1392.8) rotate(-90)" text-anchor="end">2008</text>
<text class="xt" transform="translate(1719.6 1392.8) rotate(-90)" text-anchor="end">2009</text>
<text class="xt" transform="translate(1755.3 1392.8) rotate(-90)" text-anchor="end">2010</text>
<text class="xt" transform="translate(1791.1 1392.8) rotate(-90)" text-anchor="end">2011</text>
<text class="xt" transform="translate(1826.8 1392.8) rotate(-90)" text-anchor="end">2012</text>
<text class="xt" transform="translate(1862.5 1392.8) rotate(-90)" text-anchor="end">2013</text>
<text class="xt" transform="translate(1898.3 1392.8) rotate(-90)" text-anchor="end">2014</text>
<text class="xt" transform="translate(1934 1392.8) rotate(-90)" text-anchor="end">2015</text>
<text class="xt" transform="translate(1969.8 1392.8) rotate(-90)" text-anchor="end">2016</text>
<text class="xt" transform="translate(2005.5 1392.8) rotate(-90)" text-anchor="end">2017</text>
<text class="xt" transform="translate(2041.2 1392.8) rotate(-90)" text-anchor="end">2018</text>
<path d="M1276 1373V1385.5M1311.7 1373V1385.5M1347.5 1373V1385.5M1383.2 1373V1385.5M1419 1373V1385.5M1454.7 1373V1385.5M1490.4 1373V1385.5M1526.2 1373V1385.5M1561.9 1373V1385.5M1597.7 1373V1385.5M1633.4 1373V1385.5M1669.1 1373V1385.5M1704.9 1373V1385.5M1740.6 1373V1385.5M1776.4 1373V1385.5M1812.1 1373V1385.5M1847.8 1373V1385.5M1883.6 1373V1385.5M1919.3 1373V1385.5M1955.1 1373V1385.5M1990.8 1373V1385.5M2026.5 1373V1385.5" stroke="#8a8a8a" stroke-width="2.4" fill="none"/>
<text class="yr" x="1651.7" y="1515.6" text-anchor="middle">Year</text>
</g>
<g id="panel-c">
<g class="cells">
<path fill="#1288fc" d="M323.8 1752.4h33v18.2h-33zM646.6 2576.5h33v18.2h-33z"/>
<path fill="#e62604" d="M539 1667.8h33v18.2h-33zM323.8 1900.3h33v18.2h-33zM395.5 1921.4h33v18.2h-33zM646.6 1942.5h33v18.2h-33zM897.7 2661h33v18.2h-33z"/>
<path fill="#c81403" d="M252.1 1858h33v18.2h-33z"/>
<path fill="#0cf634" d="M323.8 1646.7h33v18.2h-33zM754.2 1646.7h33v18.2h-33zM897.7 1667.8h33v18.2h-33zM216.2 1689h33v18.2h-33zM610.8 1689h33v18.2h-33zM790.1 1689h33v18.2h-33zM790.1 1710.1h33v18.2h-33zM287.9 1731.2h33v18.2h-33zM216.2 1773.5h33v18.2h-33zM503.2 1773.5h33v18.2h-33zM467.3 1794.6h33v18.2h-33zM933.6 1836.9h33v18.2h-33zM574.9 1858h33v18.2h-33zM610.8 1858h33v18.2h-33zM431.4 1879.2h33v18.2h-33zM718.4 1879.2h33v18.2h-33zM252.1 1900.3h33v18.2h-33zM359.7 1900.3h33v18.2h-33zM467.3 1900.3h33v18.2h-33zM861.9 1900.3h33v18.2h-33zM754.2 1921.4h33v18.2h-33zM933.6 1921.4h33v18.2h-33zM287.9 1942.5h33v18.2h-33zM503.2 1942.5h33v18.2h-33zM539 1984.8h33v18.2h-33zM287.9 2005.9h33v18.2h-33zM718.4 2027.1h33v18.2h-33zM826 2027.1h33v18.2h-33zM682.5 2048.2h33v18.2h-33zM359.7 2090.5h33v18.2h-33zM503.2 2090.5h33v18.2h-33zM718.4 2090.5h33v18.2h-33zM323.8 2175h33v18.2h-33zM431.4 2175h33v18.2h-33zM503.2 2175h33v18.2h-33zM287.9 2196.1h33v18.2h-33zM287.9 2217.3h33v18.2h-33zM395.5 2217.3h33v18.2h-33zM933.6 2259.5h33v18.2h-33zM646.6 2280.7h33v18.2h-33zM933.6 2280.7h33v18.2h-33zM216.2 2365.2h33v18.2h-33zM216.2 2386.3h33v18.2h-33zM323.8 2470.8h33v18.2h-33zM754.2 2470.8h33v18.2h-33zM861.9 2470.8h33v18.2h-33zM287.9 2492h33v18.2h-33zM610.8 2492h33v18.2h-33zM323.8 2513.1h33v18.2h-33zM395.5 2513.1h33v18.2h-33zM395.5 2534.2h33v18.2h-33zM610.8 2534.2h33v18.2h-33zM933.6 2534.2h33v18.2h-33zM180.3 2555.4h33v18.2h-33zM323.8 2555.4h33v18.2h-33zM503.2 2555.4h33v18.2h-33zM718.4 2555.4h33v18.2h-33zM933.6 2639.9h33v18.2h-33zM287.9 2661h33v18.2h-33zM359.7 2661h33v18.2h-33zM503.2 2661h33v18.2h-33zM539 2661h33v18.2h-33zM323.8 2682.2h33v18.2h-33zM718.4 2682.2h33v18.2h-33zM252.1 2830.1h33v18.2h-33zM503.2 2830.1h33v18.2h-33zM897.7 2830.1h33v18.2h-33z"/>
<path fill="#3e5acc" d="M503.2 1900.3h33v18.2h-33z"/>
<path fill="#40369a" d="M359.7 1984.8h33v18.2h-33zM180.3 2597.6h33v18.2h-33z"/>
<path fill="#8a0000" d="M646.6 1731.2h33v18.2h-33zM395.5 1984.8h33v18.2h-33zM180.3 2407.5h33v18.2h-33z"/>
<path fill="#ffa321" d="M252.1 1646.7h33v18.2h-33zM574.9 1646.7h33v18.2h-33zM897.7 1646.7h33v18.2h-33zM252.1 1710.1h33v18.2h-33zM539 1731.2h33v18.2h-33zM933.6 1731.2h33v18.2h-33zM431.4 1752.4h33v18.2h-33zM646.6 1752.4h33v18.2h-33zM861.9 1773.5h33v18.2h-33zM646.6 1879.2h33v18.2h-33zM216.2 1900.3h33v18.2h-33zM395.5 1900.3h33v18.2h-33zM252.1 1921.4h33v18.2h-33zM323.8 1921.4h33v18.2h-33zM646.6 1921.4h33v18.2h-33zM323.8 1942.5h33v18.2h-33zM897.7 1942.5h33v18.2h-33zM861.9 1963.7h33v18.2h-33zM252.1 1984.8h33v18.2h-33zM431.4 1984.8h33v18.2h-33zM646.6 1984.8h33v18.2h-33zM216.2 2005.9h33v18.2h-33zM252.1 2005.9h33v18.2h-33zM323.8 2005.9h33v18.2h-33zM431.4 2005.9h33v18.2h-33zM610.8 2005.9h33v18.2h-33zM861.9 2005.9h33v18.2h-33zM467.3 2027.1h33v18.2h-33zM646.6 2048.2h33v18.2h-33zM754.2 2048.2h33v18.2h-33zM252.1 2090.5h33v18.2h-33zM467.3 2090.5h33v18.2h-33zM897.7 2090.5h33v18.2h-33zM359.7 2196.1h33v18.2h-33zM359.7 2238.4h33v18.2h-33zM287.9 2365.2h33v18.2h-33zM610.8 2365.2h33v18.2h-33zM826 2386.3h33v18.2h-33zM897.7 2449.7h33v18.2h-33zM287.9 2470.8h33v18.2h-33zM359.7 2513.1h33v18.2h-33zM395.5 2555.4h33v18.2h-33zM646.6 2555.4h33v18.2h-33zM539 2576.5h33v18.2h-33zM574.9 2576.5h33v18.2h-33zM861.9 2576.5h33v18.2h-33zM252.1 2597.6h33v18.2h-33zM287.9 2597.6h33v18.2h-33zM323.8 2618.8h33v18.2h-33zM897.7 2639.9h33v18.2h-33zM252.1 2661h33v18.2h-33zM395.5 2661h33v18.2h-33zM861.9 2661h33v18.2h-33zM431.4 2682.2h33v18.2h-33zM539 2724.4h33v18.2h-33zM861.9 2830.1h33v18.2h-33z"/>
<path fill="#380f3d" d="M503.2 1921.4h33v18.2h-33z"/>
<path fill="#ff4a02" d="M646.6 1689h33v18.2h-33zM252.1 1731.2h33v18.2h-33zM252.1 1773.5h33v18.2h-33zM646.6 1773.5h33v18.2h-33zM574.9 1794.6h33v18.2h-33zM897.7 1858h33v18.2h-33zM287.9 1900.3h33v18.2h-33zM431.4 1900.3h33v18.2h-33zM646.6 1900.3h33v18.2h-33zM431.4 1921.4h33v18.2h-33zM539 1942.5h33v18.2h-33zM287.9 1984.8h33v18.2h-33zM467.3 2217.3h33v18.2h-33zM646.6 2365.2h33v18.2h-33zM431.4 2470.8h33v18.2h-33zM539 2534.2h33v18.2h-33zM754.2 2576.5h33v18.2h-33zM861.9 2597.6h33v18.2h-33zM252.1 2682.2h33v18.2h-33zM431.4 2703.3h33v18.2h-33z"/>
<path fill="#04e6ae" d="M395.5 1646.7h33v18.2h-33zM826 1646.7h33v18.2h-33zM933.6 1710.1h33v18.2h-33zM718.4 1752.4h33v18.2h-33zM790.1 1752.4h33v18.2h-33zM287.9 1773.5h33v18.2h-33zM539 1794.6h33v18.2h-33zM718.4 1794.6h33v18.2h-33zM359.7 1858h33v18.2h-33zM503.2 1858h33v18.2h-33zM359.7 1921.4h33v18.2h-33zM467.3 1984.8h33v18.2h-33zM682.5 2005.9h33v18.2h-33zM216.2 2217.3h33v18.2h-33zM539 2365.2h33v18.2h-33zM180.3 2513.1h33v18.2h-33zM216.2 2513.1h33v18.2h-33zM503.2 2534.2h33v18.2h-33zM287.9 2576.5h33v18.2h-33zM395.5 2576.5h33v18.2h-33zM790.1 2576.5h33v18.2h-33zM682.5 2661h33v18.2h-33zM359.7 2703.3h33v18.2h-33zM287.9 2809h33v18.2h-33z"/>
<path fill="#e3da12" d="M252.1 1667.8h33v18.2h-33zM467.3 1667.8h33v18.2h-33zM610.8 1667.8h33v18.2h-33zM646.6 1667.8h33v18.2h-33zM826 1667.8h33v18.2h-33zM287.9 1689h33v18.2h-33zM467.3 1689h33v18.2h-33zM503.2 1689h33v18.2h-33zM574.9 1689h33v18.2h-33zM610.8 1710.1h33v18.2h-33zM646.6 1710.1h33v18.2h-33zM431.4 1731.2h33v18.2h-33zM467.3 1731.2h33v18.2h-33zM826 1731.2h33v18.2h-33zM216.2 1752.4h33v18.2h-33zM467.3 1752.4h33v18.2h-33zM574.9 1752.4h33v18.2h-33zM610.8 1752.4h33v18.2h-33zM826 1752.4h33v18.2h-33zM897.7 1752.4h33v18.2h-33zM933.6 1752.4h33v18.2h-33zM252.1 1794.6h33v18.2h-33zM287.9 1815.8h33v18.2h-33zM431.4 1815.8h33v18.2h-33zM216.2 1836.9h33v18.2h-33zM287.9 1836.9h33v18.2h-33zM323.8 1836.9h33v18.2h-33zM431.4 1836.9h33v18.2h-33zM539 1836.9h33v18.2h-33zM646.6 1836.9h33v18.2h-33zM682.5 1836.9h33v18.2h-33zM754.2 1836.9h33v18.2h-33zM897.7 1836.9h33v18.2h-33zM216.2 1879.2h33v18.2h-33zM503.2 1879.2h33v18.2h-33zM610.8 1879.2h33v18.2h-33zM682.5 1879.2h33v18.2h-33zM861.9 1879.2h33v18.2h-33zM467.3 1921.4h33v18.2h-33zM539 1921.4h33v18.2h-33zM574.9 1921.4h33v18.2h-33zM610.8 1921.4h33v18.2h-33zM718.4 1921.4h33v18.2h-33zM395.5 1942.5h33v18.2h-33zM610.8 1942.5h33v18.2h-33zM216.2 1963.7h33v18.2h-33zM395.5 1963.7h33v18.2h-33zM718.4 1963.7h33v18.2h-33zM610.8 1984.8h33v18.2h-33zM897.7 1984.8h33v18.2h-33zM933.6 1984.8h33v18.2h-33zM574.9 2005.9h33v18.2h-33zM897.7 2005.9h33v18.2h-33zM180.3 2027.1h33v18.2h-33zM252.1 2027.1h33v18.2h-33zM323.8 2027.1h33v18.2h-33zM682.5 2027.1h33v18.2h-33zM790.1 2027.1h33v18.2h-33zM323.8 2048.2h33v18.2h-33zM467.3 2048.2h33v18.2h-33zM790.1 2048.2h33v18.2h-33zM861.9 2048.2h33v18.2h-33zM897.7 2048.2h33v18.2h-33zM180.3 2069.3h33v18.2h-33zM431.4 2069.3h33v18.2h-33zM467.3 2069.3h33v18.2h-33zM539 2069.3h33v18.2h-33zM826 2069.3h33v18.2h-33zM682.5 2090.5h33v18.2h-33zM395.5 2132.7h33v18.2h-33zM646.6 2132.7h33v18.2h-33zM754.2 2132.7h33v18.2h-33zM861.9 2132.7h33v18.2h-33zM467.3 2175h33v18.2h-33zM826 2175h33v18.2h-33zM180.3 2196.1h33v18.2h-33zM323.8 2196.1h33v18.2h-33zM503.2 2217.3h33v18.2h-33zM933.6 2217.3h33v18.2h-33zM252.1 2238.4h33v18.2h-33zM897.7 2238.4h33v18.2h-33zM216.2 2259.5h33v18.2h-33zM897.7 2259.5h33v18.2h-33zM180.3 2280.7h33v18.2h-33zM682.5 2280.7h33v18.2h-33zM826 2280.7h33v18.2h-33zM861.9 2280.7h33v18.2h-33zM897.7 2280.7h33v18.2h-33zM359.7 2322.9h33v18.2h-33zM216.2 2344.1h33v18.2h-33zM431.4 2365.2h33v18.2h-33zM682.5 2365.2h33v18.2h-33zM359.7 2386.3h33v18.2h-33zM395.5 2386.3h33v18.2h-33zM431.4 2386.3h33v18.2h-33zM646.6 2386.3h33v18.2h-33zM897.7 2386.3h33v18.2h-33zM252.1 2407.5h33v18.2h-33zM359.7 2407.5h33v18.2h-33zM467.3 2407.5h33v18.2h-33zM503.2 2407.5h33v18.2h-33zM180.3 2428.6h33v18.2h-33zM610.8 2428.6h33v18.2h-33zM646.6 2428.6h33v18.2h-33zM682.5 2428.6h33v18.2h-33zM933.6 2428.6h33v18.2h-33zM861.9 2449.7h33v18.2h-33zM574.9 2470.8h33v18.2h-33zM646.6 2470.8h33v18.2h-33zM790.1 2470.8h33v18.2h-33zM323.8 2492h33v18.2h-33zM395.5 2492h33v18.2h-33zM431.4 2492h33v18.2h-33zM539 2492h33v18.2h-33zM539 2513.1h33v18.2h-33zM861.9 2513.1h33v18.2h-33zM216.2 2534.2h33v18.2h-33zM287.9 2555.4h33v18.2h-33zM610.8 2555.4h33v18.2h-33zM718.4 2576.5h33v18.2h-33zM287.9 2618.8h33v18.2h-33zM395.5 2618.8h33v18.2h-33zM431.4 2618.8h33v18.2h-33zM718.4 2618.8h33v18.2h-33zM861.9 2618.8h33v18.2h-33zM897.7 2618.8h33v18.2h-33zM395.5 2639.9h33v18.2h-33zM539 2639.9h33v18.2h-33zM610.8 2639.9h33v18.2h-33zM682.5 2639.9h33v18.2h-33zM790.1 2639.9h33v18.2h-33zM646.6 2661h33v18.2h-33zM933.6 2661h33v18.2h-33zM861.9 2703.3h33v18.2h-33zM252.1 2724.4h33v18.2h-33zM431.4 2724.4h33v18.2h-33zM861.9 2724.4h33v18.2h-33zM252.1 2745.6h33v18.2h-33zM503.2 2745.6h33v18.2h-33zM539 2745.6h33v18.2h-33zM682.5 2766.7h33v18.2h-33zM252.1 2787.8h33v18.2h-33zM467.3 2787.8h33v18.2h-33zM826 2787.8h33v18.2h-33zM861.9 2787.8h33v18.2h-33zM897.7 2787.8h33v18.2h-33zM180.3 2809h33v18.2h-33zM216.2 2809h33v18.2h-33zM395.5 2809h33v18.2h-33zM467.3 2809h33v18.2h-33zM503.2 2809h33v18.2h-33zM539 2809h33v18.2h-33zM646.6 2809h33v18.2h-33zM216.2 2851.2h33v18.2h-33zM252.1 2851.2h33v18.2h-33zM646.6 2851.2h33v18.2h-33zM682.5 2851.2h33v18.2h-33zM933.6 2851.2h33v18.2h-33z"/>
<path fill="#12b4ef" d="M718.4 1689h33v18.2h-33zM323.8 1794.6h33v18.2h-33zM574.9 1900.3h33v18.2h-33zM790.1 1942.5h33v18.2h-33zM503.2 1984.8h33v18.2h-33zM790.1 1984.8h33v18.2h-33zM431.4 2280.7h33v18.2h-33zM287.9 2407.5h33v18.2h-33zM861.9 2407.5h33v18.2h-33zM539 2470.8h33v18.2h-33z"/>
<path fill="#11cfd6" d="M682.5 1731.2h33v18.2h-33zM287.9 1858h33v18.2h-33zM574.9 1942.5h33v18.2h-33zM359.7 2027.1h33v18.2h-33zM574.9 2534.2h33v18.2h-33zM933.6 2618.8h33v18.2h-33zM359.7 2766.7h33v18.2h-33z"/>
<path fill="#62f80e" d="M503.2 1646.7h33v18.2h-33zM682.5 1667.8h33v18.2h-33zM933.6 1667.8h33v18.2h-33zM467.3 1710.1h33v18.2h-33zM790.1 1731.2h33v18.2h-33zM539 1752.4h33v18.2h-33zM682.5 1773.5h33v18.2h-33zM718.4 1773.5h33v18.2h-33zM826 1773.5h33v18.2h-33zM933.6 1773.5h33v18.2h-33zM682.5 1794.6h33v18.2h-33zM861.9 1858h33v18.2h-33zM539 1900.3h33v18.2h-33zM682.5 1900.3h33v18.2h-33zM682.5 1921.4h33v18.2h-33zM682.5 1963.7h33v18.2h-33zM790.1 1963.7h33v18.2h-33zM718.4 2005.9h33v18.2h-33zM933.6 2005.9h33v18.2h-33zM933.6 2027.1h33v18.2h-33zM252.1 2048.2h33v18.2h-33zM431.4 2132.7h33v18.2h-33zM718.4 2132.7h33v18.2h-33zM933.6 2175h33v18.2h-33zM646.6 2217.3h33v18.2h-33zM861.9 2259.5h33v18.2h-33zM216.2 2470.8h33v18.2h-33zM359.7 2492h33v18.2h-33zM431.4 2597.6h33v18.2h-33zM503.2 2597.6h33v18.2h-33zM718.4 2597.6h33v18.2h-33zM539 2618.8h33v18.2h-33zM503.2 2639.9h33v18.2h-33zM826 2639.9h33v18.2h-33zM754.2 2661h33v18.2h-33zM180.3 2724.4h33v18.2h-33zM359.7 2724.4h33v18.2h-33zM359.7 2745.6h33v18.2h-33zM682.5 2787.8h33v18.2h-33zM574.9 2809h33v18.2h-33zM359.7 2830.1h33v18.2h-33z"/>
<path fill="#9af202" d="M287.9 1667.8h33v18.2h-33zM574.9 1667.8h33v18.2h-33zM431.4 1689h33v18.2h-33zM216.2 1710.1h33v18.2h-33zM503.2 1710.1h33v18.2h-33zM682.5 1710.1h33v18.2h-33zM826 1710.1h33v18.2h-33zM610.8 1731.2h33v18.2h-33zM754.2 1731.2h33v18.2h-33zM287.9 1752.4h33v18.2h-33zM323.8 1773.5h33v18.2h-33zM431.4 1773.5h33v18.2h-33zM539 1773.5h33v18.2h-33zM790.1 1773.5h33v18.2h-33zM861.9 1794.6h33v18.2h-33zM933.6 1794.6h33v18.2h-33zM323.8 1815.8h33v18.2h-33zM359.7 1815.8h33v18.2h-33zM790.1 1836.9h33v18.2h-33zM861.9 1836.9h33v18.2h-33zM790.1 1858h33v18.2h-33zM359.7 1879.2h33v18.2h-33zM467.3 1879.2h33v18.2h-33zM539 1879.2h33v18.2h-33zM574.9 1879.2h33v18.2h-33zM754.2 1879.2h33v18.2h-33zM826 1879.2h33v18.2h-33zM610.8 1900.3h33v18.2h-33zM718.4 1900.3h33v18.2h-33zM897.7 1900.3h33v18.2h-33zM933.6 1900.3h33v18.2h-33zM216.2 1921.4h33v18.2h-33zM790.1 1921.4h33v18.2h-33zM359.7 1942.5h33v18.2h-33zM431.4 1942.5h33v18.2h-33zM718.4 1942.5h33v18.2h-33zM861.9 1942.5h33v18.2h-33zM323.8 1963.7h33v18.2h-33zM503.2 1963.7h33v18.2h-33zM610.8 1963.7h33v18.2h-33zM682.5 1984.8h33v18.2h-33zM826 1984.8h33v18.2h-33zM395.5 2005.9h33v18.2h-33zM467.3 2005.9h33v18.2h-33zM503.2 2005.9h33v18.2h-33zM539 2005.9h33v18.2h-33zM826 2005.9h33v18.2h-33zM754.2 2027.1h33v18.2h-33zM216.2 2048.2h33v18.2h-33zM359.7 2048.2h33v18.2h-33zM395.5 2048.2h33v18.2h-33zM539 2048.2h33v18.2h-33zM718.4 2048.2h33v18.2h-33zM933.6 2048.2h33v18.2h-33zM287.9 2090.5h33v18.2h-33zM574.9 2090.5h33v18.2h-33zM933.6 2090.5h33v18.2h-33zM323.8 2111.6h33v18.2h-33zM180.3 2132.7h33v18.2h-33zM359.7 2132.7h33v18.2h-33zM682.5 2132.7h33v18.2h-33zM180.3 2153.9h33v18.2h-33zM216.2 2153.9h33v18.2h-33zM287.9 2153.9h33v18.2h-33zM826 2153.9h33v18.2h-33zM861.9 2153.9h33v18.2h-33zM933.6 2153.9h33v18.2h-33zM180.3 2175h33v18.2h-33zM216.2 2175h33v18.2h-33zM897.7 2175h33v18.2h-33zM216.2 2196.1h33v18.2h-33zM252.1 2196.1h33v18.2h-33zM431.4 2196.1h33v18.2h-33zM682.5 2196.1h33v18.2h-33zM826 2196.1h33v18.2h-33zM861.9 2217.3h33v18.2h-33zM861.9 2238.4h33v18.2h-33zM503.2 2280.7h33v18.2h-33zM323.8 2322.9h33v18.2h-33zM467.3 2322.9h33v18.2h-33zM897.7 2322.9h33v18.2h-33zM323.8 2365.2h33v18.2h-33zM395.5 2365.2h33v18.2h-33zM503.2 2365.2h33v18.2h-33zM574.9 2365.2h33v18.2h-33zM933.6 2365.2h33v18.2h-33zM180.3 2386.3h33v18.2h-33zM287.9 2386.3h33v18.2h-33zM323.8 2386.3h33v18.2h-33zM503.2 2386.3h33v18.2h-33zM323.8 2407.5h33v18.2h-33zM897.7 2407.5h33v18.2h-33zM933.6 2407.5h33v18.2h-33zM252.1 2428.6h33v18.2h-33zM323.8 2428.6h33v18.2h-33zM359.7 2428.6h33v18.2h-33zM503.2 2428.6h33v18.2h-33zM826 2449.7h33v18.2h-33zM503.2 2470.8h33v18.2h-33zM826 2470.8h33v18.2h-33zM503.2 2492h33v18.2h-33zM682.5 2492h33v18.2h-33zM754.2 2492h33v18.2h-33zM790.1 2492h33v18.2h-33zM861.9 2492h33v18.2h-33zM287.9 2513.1h33v18.2h-33zM431.4 2513.1h33v18.2h-33zM574.9 2513.1h33v18.2h-33zM718.4 2513.1h33v18.2h-33zM180.3 2534.2h33v18.2h-33zM646.6 2534.2h33v18.2h-33zM754.2 2534.2h33v18.2h-33zM826 2534.2h33v18.2h-33zM897.7 2534.2h33v18.2h-33zM216.2 2555.4h33v18.2h-33zM682.5 2555.4h33v18.2h-33zM933.6 2555.4h33v18.2h-33zM610.8 2576.5h33v18.2h-33zM359.7 2597.6h33v18.2h-33zM610.8 2597.6h33v18.2h-33zM682.5 2597.6h33v18.2h-33zM754.2 2597.6h33v18.2h-33zM790.1 2597.6h33v18.2h-33zM897.7 2597.6h33v18.2h-33zM933.6 2597.6h33v18.2h-33zM216.2 2618.8h33v18.2h-33zM359.7 2618.8h33v18.2h-33zM610.8 2618.8h33v18.2h-33zM252.1 2639.9h33v18.2h-33zM359.7 2639.9h33v18.2h-33zM431.4 2639.9h33v18.2h-33zM467.3 2639.9h33v18.2h-33zM574.9 2639.9h33v18.2h-33zM718.4 2639.9h33v18.2h-33zM754.2 2639.9h33v18.2h-33zM718.4 2661h33v18.2h-33zM790.1 2661h33v18.2h-33zM216.2 2682.2h33v18.2h-33zM359.7 2682.2h33v18.2h-33zM395.5 2682.2h33v18.2h-33zM467.3 2682.2h33v18.2h-33zM503.2 2682.2h33v18.2h-33zM610.8 2682.2h33v18.2h-33zM646.6 2682.2h33v18.2h-33zM754.2 2682.2h33v18.2h-33zM790.1 2682.2h33v18.2h-33zM897.7 2682.2h33v18.2h-33zM180.3 2703.3h33v18.2h-33zM826 2703.3h33v18.2h-33zM395.5 2724.4h33v18.2h-33zM503.2 2724.4h33v18.2h-33zM897.7 2724.4h33v18.2h-33zM287.9 2745.6h33v18.2h-33zM323.8 2745.6h33v18.2h-33zM395.5 2745.6h33v18.2h-33zM467.3 2745.6h33v18.2h-33zM216.2 2787.8h33v18.2h-33zM646.6 2787.8h33v18.2h-33zM287.9 2830.1h33v18.2h-33zM323.8 2830.1h33v18.2h-33zM395.5 2830.1h33v18.2h-33zM933.6 2830.1h33v18.2h-33zM287.9 2851.2h33v18.2h-33zM467.3 2851.2h33v18.2h-33zM574.9 2851.2h33v18.2h-33zM610.8 2851.2h33v18.2h-33z"/>
<path fill="#fec52a" d="M180.3 1646.7h33v18.2h-33zM359.7 1646.7h33v18.2h-33zM431.4 1646.7h33v18.2h-33zM467.3 1646.7h33v18.2h-33zM682.5 1646.7h33v18.2h-33zM790.1 1646.7h33v18.2h-33zM216.2 1667.8h33v18.2h-33zM431.4 1667.8h33v18.2h-33zM252.1 1689h33v18.2h-33zM682.5 1689h33v18.2h-33zM754.2 1689h33v18.2h-33zM539 1710.1h33v18.2h-33zM574.9 1710.1h33v18.2h-33zM754.2 1710.1h33v18.2h-33zM861.9 1710.1h33v18.2h-33zM754.2 1752.4h33v18.2h-33zM897.7 1773.5h33v18.2h-33zM216.2 1794.6h33v18.2h-33zM646.6 1794.6h33v18.2h-33zM754.2 1794.6h33v18.2h-33zM826 1836.9h33v18.2h-33zM431.4 1858h33v18.2h-33zM539 1858h33v18.2h-33zM682.5 1858h33v18.2h-33zM323.8 1879.2h33v18.2h-33zM395.5 1879.2h33v18.2h-33zM897.7 1879.2h33v18.2h-33zM754.2 1900.3h33v18.2h-33zM826 1900.3h33v18.2h-33zM287.9 1921.4h33v18.2h-33zM861.9 1921.4h33v18.2h-33zM897.7 1921.4h33v18.2h-33zM216.2 1942.5h33v18.2h-33zM252.1 1942.5h33v18.2h-33zM826 1942.5h33v18.2h-33zM252.1 1963.7h33v18.2h-33zM467.3 1963.7h33v18.2h-33zM754.2 1963.7h33v18.2h-33zM754.2 2005.9h33v18.2h-33zM790.1 2005.9h33v18.2h-33zM216.2 2027.1h33v18.2h-33zM395.5 2027.1h33v18.2h-33zM539 2027.1h33v18.2h-33zM610.8 2027.1h33v18.2h-33zM539 2090.5h33v18.2h-33zM646.6 2090.5h33v18.2h-33zM826 2090.5h33v18.2h-33zM252.1 2132.7h33v18.2h-33zM467.3 2132.7h33v18.2h-33zM252.1 2153.9h33v18.2h-33zM252.1 2175h33v18.2h-33zM395.5 2196.1h33v18.2h-33zM180.3 2217.3h33v18.2h-33zM252.1 2217.3h33v18.2h-33zM180.3 2238.4h33v18.2h-33zM826 2238.4h33v18.2h-33zM252.1 2280.7h33v18.2h-33zM682.5 2322.9h33v18.2h-33zM180.3 2344.1h33v18.2h-33zM180.3 2365.2h33v18.2h-33zM252.1 2365.2h33v18.2h-33zM467.3 2365.2h33v18.2h-33zM861.9 2365.2h33v18.2h-33zM897.7 2365.2h33v18.2h-33zM933.6 2386.3h33v18.2h-33zM216.2 2407.5h33v18.2h-33zM646.6 2407.5h33v18.2h-33zM682.5 2407.5h33v18.2h-33zM826 2407.5h33v18.2h-33zM287.9 2428.6h33v18.2h-33zM180.3 2470.8h33v18.2h-33zM252.1 2470.8h33v18.2h-33zM359.7 2470.8h33v18.2h-33zM574.9 2492h33v18.2h-33zM897.7 2492h33v18.2h-33zM933.6 2492h33v18.2h-33zM467.3 2513.1h33v18.2h-33zM610.8 2513.1h33v18.2h-33zM646.6 2513.1h33v18.2h-33zM252.1 2534.2h33v18.2h-33zM287.9 2534.2h33v18.2h-33zM682.5 2534.2h33v18.2h-33zM718.4 2534.2h33v18.2h-33zM861.9 2534.2h33v18.2h-33zM574.9 2555.4h33v18.2h-33zM861.9 2555.4h33v18.2h-33zM897.7 2555.4h33v18.2h-33zM180.3 2576.5h33v18.2h-33zM359.7 2576.5h33v18.2h-33zM216.2 2597.6h33v18.2h-33zM395.5 2597.6h33v18.2h-33zM539 2597.6h33v18.2h-33zM646.6 2597.6h33v18.2h-33zM252.1 2618.8h33v18.2h-33zM574.9 2618.8h33v18.2h-33zM646.6 2618.8h33v18.2h-33zM682.5 2618.8h33v18.2h-33zM790.1 2618.8h33v18.2h-33zM180.3 2639.9h33v18.2h-33zM646.6 2639.9h33v18.2h-33zM180.3 2661h33v18.2h-33zM431.4 2661h33v18.2h-33zM467.3 2661h33v18.2h-33zM826 2661h33v18.2h-33zM539 2682.2h33v18.2h-33zM216.2 2724.4h33v18.2h-33zM287.9 2724.4h33v18.2h-33zM610.8 2724.4h33v18.2h-33zM646.6 2724.4h33v18.2h-33zM682.5 2724.4h33v18.2h-33zM431.4 2745.6h33v18.2h-33zM646.6 2766.7h33v18.2h-33zM252.1 2809h33v18.2h-33zM323.8 2809h33v18.2h-33zM431.4 2809h33v18.2h-33zM180.3 2830.1h33v18.2h-33zM431.4 2830.1h33v18.2h-33zM467.3 2830.1h33v18.2h-33zM539 2830.1h33v18.2h-33zM646.6 2830.1h33v18.2h-33zM503.2 2851.2h33v18.2h-33z"/>
<path fill="#ff6c0c" d="M861.9 1646.7h33v18.2h-33zM431.4 1710.1h33v18.2h-33zM897.7 1710.1h33v18.2h-33zM467.3 1773.5h33v18.2h-33zM431.4 1794.6h33v18.2h-33zM503.2 1794.6h33v18.2h-33zM897.7 1794.6h33v18.2h-33zM323.8 1858h33v18.2h-33zM646.6 1858h33v18.2h-33zM646.6 1963.7h33v18.2h-33zM826 1963.7h33v18.2h-33zM574.9 1984.8h33v18.2h-33zM287.9 2175h33v18.2h-33zM395.5 2175h33v18.2h-33zM682.5 2175h33v18.2h-33zM861.9 2175h33v18.2h-33zM646.6 2238.4h33v18.2h-33zM180.3 2259.5h33v18.2h-33zM252.1 2386.3h33v18.2h-33zM395.5 2470.8h33v18.2h-33zM897.7 2470.8h33v18.2h-33zM252.1 2492h33v18.2h-33zM252.1 2513.1h33v18.2h-33zM359.7 2534.2h33v18.2h-33zM431.4 2534.2h33v18.2h-33zM252.1 2555.4h33v18.2h-33zM431.4 2555.4h33v18.2h-33zM826 2555.4h33v18.2h-33zM252.1 2576.5h33v18.2h-33zM826 2576.5h33v18.2h-33zM610.8 2661h33v18.2h-33zM431.4 2766.7h33v18.2h-33zM216.2 2830.1h33v18.2h-33z"/>
<path fill="#05f27c" d="M610.8 1646.7h33v18.2h-33zM503.2 1667.8h33v18.2h-33zM718.4 1710.1h33v18.2h-33zM216.2 1731.2h33v18.2h-33zM503.2 1731.2h33v18.2h-33zM610.8 1794.6h33v18.2h-33zM216.2 1858h33v18.2h-33zM718.4 1858h33v18.2h-33zM790.1 1879.2h33v18.2h-33zM897.7 1963.7h33v18.2h-33zM933.6 1963.7h33v18.2h-33zM718.4 1984.8h33v18.2h-33zM323.8 2238.4h33v18.2h-33zM431.4 2407.5h33v18.2h-33zM718.4 2470.8h33v18.2h-33zM216.2 2492h33v18.2h-33zM323.8 2534.2h33v18.2h-33zM359.7 2555.4h33v18.2h-33zM539 2555.4h33v18.2h-33zM790.1 2555.4h33v18.2h-33zM431.4 2576.5h33v18.2h-33zM897.7 2576.5h33v18.2h-33zM323.8 2597.6h33v18.2h-33zM503.2 2618.8h33v18.2h-33zM287.9 2639.9h33v18.2h-33zM287.9 2682.2h33v18.2h-33zM574.9 2682.2h33v18.2h-33zM574.9 2724.4h33v18.2h-33z"/>
<path fill="#c4e80a" d="M216.2 1646.7h33v18.2h-33zM287.9 1646.7h33v18.2h-33zM539 1646.7h33v18.2h-33zM646.6 1646.7h33v18.2h-33zM718.4 1646.7h33v18.2h-33zM933.6 1646.7h33v18.2h-33zM718.4 1667.8h33v18.2h-33zM754.2 1667.8h33v18.2h-33zM790.1 1667.8h33v18.2h-33zM861.9 1667.8h33v18.2h-33zM539 1689h33v18.2h-33zM826 1689h33v18.2h-33zM861.9 1689h33v18.2h-33zM897.7 1689h33v18.2h-33zM933.6 1689h33v18.2h-33zM287.9 1710.1h33v18.2h-33zM574.9 1731.2h33v18.2h-33zM718.4 1731.2h33v18.2h-33zM861.9 1731.2h33v18.2h-33zM897.7 1731.2h33v18.2h-33zM252.1 1752.4h33v18.2h-33zM503.2 1752.4h33v18.2h-33zM682.5 1752.4h33v18.2h-33zM861.9 1752.4h33v18.2h-33zM574.9 1773.5h33v18.2h-33zM610.8 1773.5h33v18.2h-33zM754.2 1773.5h33v18.2h-33zM287.9 1794.6h33v18.2h-33zM790.1 1794.6h33v18.2h-33zM826 1794.6h33v18.2h-33zM216.2 1815.8h33v18.2h-33zM252.1 1815.8h33v18.2h-33zM395.5 1815.8h33v18.2h-33zM467.3 1815.8h33v18.2h-33zM503.2 1815.8h33v18.2h-33zM539 1815.8h33v18.2h-33zM574.9 1815.8h33v18.2h-33zM610.8 1815.8h33v18.2h-33zM646.6 1815.8h33v18.2h-33zM682.5 1815.8h33v18.2h-33zM718.4 1815.8h33v18.2h-33zM754.2 1815.8h33v18.2h-33zM790.1 1815.8h33v18.2h-33zM826 1815.8h33v18.2h-33zM861.9 1815.8h33v18.2h-33zM897.7 1815.8h33v18.2h-33zM933.6 1815.8h33v18.2h-33zM252.1 1836.9h33v18.2h-33zM359.7 1836.9h33v18.2h-33zM395.5 1836.9h33v18.2h-33zM467.3 1836.9h33v18.2h-33zM503.2 1836.9h33v18.2h-33zM574.9 1836.9h33v18.2h-33zM610.8 1836.9h33v18.2h-33zM718.4 1836.9h33v18.2h-33zM395.5 1858h33v18.2h-33zM467.3 1858h33v18.2h-33zM754.2 1858h33v18.2h-33zM826 1858h33v18.2h-33zM933.6 1858h33v18.2h-33zM252.1 1879.2h33v18.2h-33zM287.9 1879.2h33v18.2h-33zM933.6 1879.2h33v18.2h-33zM790.1 1900.3h33v18.2h-33zM826 1921.4h33v18.2h-33zM467.3 1942.5h33v18.2h-33zM682.5 1942.5h33v18.2h-33zM754.2 1942.5h33v18.2h-33zM933.6 1942.5h33v18.2h-33zM287.9 1963.7h33v18.2h-33zM359.7 1963.7h33v18.2h-33zM431.4 1963.7h33v18.2h-33zM539 1963.7h33v18.2h-33zM574.9 1963.7h33v18.2h-33zM216.2 1984.8h33v18.2h-33zM323.8 1984.8h33v18.2h-33zM754.2 1984.8h33v18.2h-33zM861.9 1984.8h33v18.2h-33zM359.7 2005.9h33v18.2h-33zM646.6 2005.9h33v18.2h-33zM287.9 2027.1h33v18.2h-33zM431.4 2027.1h33v18.2h-33zM503.2 2027.1h33v18.2h-33zM574.9 2027.1h33v18.2h-33zM646.6 2027.1h33v18.2h-33zM861.9 2027.1h33v18.2h-33zM897.7 2027.1h33v18.2h-33zM180.3 2048.2h33v18.2h-33zM287.9 2048.2h33v18.2h-33zM431.4 2048.2h33v18.2h-33zM503.2 2048.2h33v18.2h-33zM574.9 2048.2h33v18.2h-33zM610.8 2048.2h33v18.2h-33zM826 2048.2h33v18.2h-33zM216.2 2069.3h33v18.2h-33zM252.1 2069.3h33v18.2h-33zM287.9 2069.3h33v18.2h-33zM323.8 2069.3h33v18.2h-33zM359.7 2069.3h33v18.2h-33zM395.5 2069.3h33v18.2h-33zM503.2 2069.3h33v18.2h-33zM574.9 2069.3h33v18.2h-33zM610.8 2069.3h33v18.2h-33zM646.6 2069.3h33v18.2h-33zM682.5 2069.3h33v18.2h-33zM718.4 2069.3h33v18.2h-33zM754.2 2069.3h33v18.2h-33zM790.1 2069.3h33v18.2h-33zM861.9 2069.3h33v18.2h-33zM897.7 2069.3h33v18.2h-33zM933.6 2069.3h33v18.2h-33zM180.3 2090.5h33v18.2h-33zM216.2 2090.5h33v18.2h-33zM323.8 2090.5h33v18.2h-33zM395.5 2090.5h33v18.2h-33zM431.4 2090.5h33v18.2h-33zM610.8 2090.5h33v18.2h-33zM754.2 2090.5h33v18.2h-33zM790.1 2090.5h33v18.2h-33zM861.9 2090.5h33v18.2h-33zM180.3 2111.6h33v18.2h-33zM216.2 2111.6h33v18.2h-33zM252.1 2111.6h33v18.2h-33zM287.9 2111.6h33v18.2h-33zM359.7 2111.6h33v18.2h-33zM395.5 2111.6h33v18.2h-33zM431.4 2111.6h33v18.2h-33zM467.3 2111.6h33v18.2h-33zM503.2 2111.6h33v18.2h-33zM646.6 2111.6h33v18.2h-33zM682.5 2111.6h33v18.2h-33zM718.4 2111.6h33v18.2h-33zM754.2 2111.6h33v18.2h-33zM790.1 2111.6h33v18.2h-33zM826 2111.6h33v18.2h-33zM861.9 2111.6h33v18.2h-33zM897.7 2111.6h33v18.2h-33zM933.6 2111.6h33v18.2h-33zM216.2 2132.7h33v18.2h-33zM287.9 2132.7h33v18.2h-33zM323.8 2132.7h33v18.2h-33zM503.2 2132.7h33v18.2h-33zM790.1 2132.7h33v18.2h-33zM826 2132.7h33v18.2h-33zM897.7 2132.7h33v18.2h-33zM933.6 2132.7h33v18.2h-33zM323.8 2153.9h33v18.2h-33zM359.7 2153.9h33v18.2h-33zM395.5 2153.9h33v18.2h-33zM431.4 2153.9h33v18.2h-33zM467.3 2153.9h33v18.2h-33zM503.2 2153.9h33v18.2h-33zM646.6 2153.9h33v18.2h-33zM682.5 2153.9h33v18.2h-33zM897.7 2153.9h33v18.2h-33zM359.7 2175h33v18.2h-33zM646.6 2175h33v18.2h-33zM467.3 2196.1h33v18.2h-33zM503.2 2196.1h33v18.2h-33zM646.6 2196.1h33v18.2h-33zM861.9 2196.1h33v18.2h-33zM897.7 2196.1h33v18.2h-33zM933.6 2196.1h33v18.2h-33zM323.8 2217.3h33v18.2h-33zM359.7 2217.3h33v18.2h-33zM431.4 2217.3h33v18.2h-33zM682.5 2217.3h33v18.2h-33zM826 2217.3h33v18.2h-33zM897.7 2217.3h33v18.2h-33zM216.2 2238.4h33v18.2h-33zM287.9 2238.4h33v18.2h-33zM395.5 2238.4h33v18.2h-33zM431.4 2238.4h33v18.2h-33zM467.3 2238.4h33v18.2h-33zM503.2 2238.4h33v18.2h-33zM682.5 2238.4h33v18.2h-33zM933.6 2238.4h33v18.2h-33zM252.1 2259.5h33v18.2h-33zM287.9 2259.5h33v18.2h-33zM323.8 2259.5h33v18.2h-33zM359.7 2259.5h33v18.2h-33zM395.5 2259.5h33v18.2h-33zM431.4 2259.5h33v18.2h-33zM467.3 2259.5h33v18.2h-33zM503.2 2259.5h33v18.2h-33zM646.6 2259.5h33v18.2h-33zM682.5 2259.5h33v18.2h-33zM826 2259.5h33v18.2h-33zM216.2 2280.7h33v18.2h-33zM287.9 2280.7h33v18.2h-33zM323.8 2280.7h33v18.2h-33zM359.7 2280.7h33v18.2h-33zM395.5 2280.7h33v18.2h-33zM467.3 2280.7h33v18.2h-33zM180.3 2301.8h33v18.2h-33zM216.2 2301.8h33v18.2h-33zM252.1 2301.8h33v18.2h-33zM287.9 2301.8h33v18.2h-33zM323.8 2301.8h33v18.2h-33zM359.7 2301.8h33v18.2h-33zM395.5 2301.8h33v18.2h-33zM431.4 2301.8h33v18.2h-33zM467.3 2301.8h33v18.2h-33zM503.2 2301.8h33v18.2h-33zM646.6 2301.8h33v18.2h-33zM682.5 2301.8h33v18.2h-33zM826 2301.8h33v18.2h-33zM861.9 2301.8h33v18.2h-33zM897.7 2301.8h33v18.2h-33zM933.6 2301.8h33v18.2h-33zM180.3 2322.9h33v18.2h-33zM216.2 2322.9h33v18.2h-33zM252.1 2322.9h33v18.2h-33zM287.9 2322.9h33v18.2h-33zM395.5 2322.9h33v18.2h-33zM431.4 2322.9h33v18.2h-33zM503.2 2322.9h33v18.2h-33zM646.6 2322.9h33v18.2h-33zM826 2322.9h33v18.2h-33zM861.9 2322.9h33v18.2h-33zM933.6 2322.9h33v18.2h-33zM252.1 2344.1h33v18.2h-33zM287.9 2344.1h33v18.2h-33zM323.8 2344.1h33v18.2h-33zM359.7 2344.1h33v18.2h-33zM395.5 2344.1h33v18.2h-33zM431.4 2344.1h33v18.2h-33zM467.3 2344.1h33v18.2h-33zM503.2 2344.1h33v18.2h-33zM539 2344.1h33v18.2h-33zM574.9 2344.1h33v18.2h-33zM610.8 2344.1h33v18.2h-33zM646.6 2344.1h33v18.2h-33zM682.5 2344.1h33v18.2h-33zM826 2344.1h33v18.2h-33zM861.9 2344.1h33v18.2h-33zM897.7 2344.1h33v18.2h-33zM933.6 2344.1h33v18.2h-33zM359.7 2365.2h33v18.2h-33zM826 2365.2h33v18.2h-33zM467.3 2386.3h33v18.2h-33zM682.5 2386.3h33v18.2h-33zM861.9 2386.3h33v18.2h-33zM395.5 2407.5h33v18.2h-33zM216.2 2428.6h33v18.2h-33zM395.5 2428.6h33v18.2h-33zM431.4 2428.6h33v18.2h-33zM467.3 2428.6h33v18.2h-33zM539 2428.6h33v18.2h-33zM574.9 2428.6h33v18.2h-33zM826 2428.6h33v18.2h-33zM861.9 2428.6h33v18.2h-33zM897.7 2428.6h33v18.2h-33zM180.3 2449.7h33v18.2h-33zM216.2 2449.7h33v18.2h-33zM252.1 2449.7h33v18.2h-33zM287.9 2449.7h33v18.2h-33zM323.8 2449.7h33v18.2h-33zM359.7 2449.7h33v18.2h-33zM395.5 2449.7h33v18.2h-33zM431.4 2449.7h33v18.2h-33zM467.3 2449.7h33v18.2h-33zM503.2 2449.7h33v18.2h-33zM539 2449.7h33v18.2h-33zM574.9 2449.7h33v18.2h-33zM610.8 2449.7h33v18.2h-33zM646.6 2449.7h33v18.2h-33zM682.5 2449.7h33v18.2h-33zM718.4 2449.7h33v18.2h-33zM754.2 2449.7h33v18.2h-33zM790.1 2449.7h33v18.2h-33zM933.6 2449.7h33v18.2h-33zM467.3 2470.8h33v18.2h-33zM610.8 2470.8h33v18.2h-33zM682.5 2470.8h33v18.2h-33zM933.6 2470.8h33v18.2h-33zM180.3 2492h33v18.2h-33zM467.3 2492h33v18.2h-33zM646.6 2492h33v18.2h-33zM718.4 2492h33v18.2h-33zM826 2492h33v18.2h-33zM503.2 2513.1h33v18.2h-33zM682.5 2513.1h33v18.2h-33zM754.2 2513.1h33v18.2h-33zM790.1 2513.1h33v18.2h-33zM826 2513.1h33v18.2h-33zM897.7 2513.1h33v18.2h-33zM933.6 2513.1h33v18.2h-33zM467.3 2534.2h33v18.2h-33zM790.1 2534.2h33v18.2h-33zM467.3 2555.4h33v18.2h-33zM754.2 2555.4h33v18.2h-33zM216.2 2576.5h33v18.2h-33zM323.8 2576.5h33v18.2h-33zM467.3 2576.5h33v18.2h-33zM503.2 2576.5h33v18.2h-33zM682.5 2576.5h33v18.2h-33zM933.6 2576.5h33v18.2h-33zM467.3 2597.6h33v18.2h-33zM574.9 2597.6h33v18.2h-33zM826 2597.6h33v18.2h-33zM180.3 2618.8h33v18.2h-33zM467.3 2618.8h33v18.2h-33zM754.2 2618.8h33v18.2h-33zM826 2618.8h33v18.2h-33zM216.2 2639.9h33v18.2h-33zM323.8 2639.9h33v18.2h-33zM861.9 2639.9h33v18.2h-33zM216.2 2661h33v18.2h-33zM323.8 2661h33v18.2h-33zM574.9 2661h33v18.2h-33zM180.3 2682.2h33v18.2h-33zM682.5 2682.2h33v18.2h-33zM826 2682.2h33v18.2h-33zM861.9 2682.2h33v18.2h-33zM933.6 2682.2h33v18.2h-33zM216.2 2703.3h33v18.2h-33zM252.1 2703.3h33v18.2h-33zM287.9 2703.3h33v18.2h-33zM323.8 2703.3h33v18.2h-33zM395.5 2703.3h33v18.2h-33zM467.3 2703.3h33v18.2h-33zM503.2 2703.3h33v18.2h-33zM539 2703.3h33v18.2h-33zM574.9 2703.3h33v18.2h-33zM610.8 2703.3h33v18.2h-33zM646.6 2703.3h33v18.2h-33zM682.5 2703.3h33v18.2h-33zM897.7 2703.3h33v18.2h-33zM933.6 2703.3h33v18.2h-33zM323.8 2724.4h33v18.2h-33zM467.3 2724.4h33v18.2h-33zM826 2724.4h33v18.2h-33zM933.6 2724.4h33v18.2h-33zM180.3 2745.6h33v18.2h-33zM216.2 2745.6h33v18.2h-33zM574.9 2745.6h33v18.2h-33zM610.8 2745.6h33v18.2h-33zM646.6 2745.6h33v18.2h-33zM682.5 2745.6h33v18.2h-33zM826 2745.6h33v18.2h-33zM861.9 2745.6h33v18.2h-33zM897.7 2745.6h33v18.2h-33zM933.6 2745.6h33v18.2h-33zM180.3 2766.7h33v18.2h-33zM216.2 2766.7h33v18.2h-33zM252.1 2766.7h33v18.2h-33zM287.9 2766.7h33v18.2h-33zM323.8 2766.7h33v18.2h-33zM395.5 2766.7h33v18.2h-33zM467.3 2766.7h33v18.2h-33zM503.2 2766.7h33v18.2h-33zM539 2766.7h33v18.2h-33zM574.9 2766.7h33v18.2h-33zM610.8 2766.7h33v18.2h-33zM826 2766.7h33v18.2h-33zM861.9 2766.7h33v18.2h-33zM897.7 2766.7h33v18.2h-33zM933.6 2766.7h33v18.2h-33zM180.3 2787.8h33v18.2h-33zM287.9 2787.8h33v18.2h-33zM323.8 2787.8h33v18.2h-33zM359.7 2787.8h33v18.2h-33zM395.5 2787.8h33v18.2h-33zM431.4 2787.8h33v18.2h-33zM503.2 2787.8h33v18.2h-33zM539 2787.8h33v18.2h-33zM574.9 2787.8h33v18.2h-33zM610.8 2787.8h33v18.2h-33zM933.6 2787.8h33v18.2h-33zM359.7 2809h33v18.2h-33zM610.8 2809h33v18.2h-33zM682.5 2809h33v18.2h-33zM826 2809h33v18.2h-33zM861.9 2809h33v18.2h-33zM897.7 2809h33v18.2h-33zM933.6 2809h33v18.2h-33zM574.9 2830.1h33v18.2h-33zM610.8 2830.1h33v18.2h-33zM682.5 2830.1h33v18.2h-33zM826 2830.1h33v18.2h-33zM180.3 2851.2h33v18.2h-33zM323.8 2851.2h33v18.2h-33zM359.7 2851.2h33v18.2h-33zM395.5 2851.2h33v18.2h-33zM431.4 2851.2h33v18.2h-33zM539 2851.2h33v18.2h-33zM826 2851.2h33v18.2h-33zM861.9 2851.2h33v18.2h-33zM897.7 2851.2h33v18.2h-33z"/>
</g>
<path d="M175.8 1585.2H971" stroke="#979797" stroke-width="4.6" fill="none"/>
<path d="M176.8 1585.2V2929.2" stroke="#b4b4b4" stroke-width="2" fill="none"/>
<path d="M970 1585.2V2930.2" stroke="#666" stroke-width="2.2" fill="none"/>
<path d="M175.8 2929.2H971" stroke="#8c8c8c" stroke-width="2.2" fill="none"/>
<text class="tk" x="156.8" y="1628.9" text-anchor="end">100</text>
<text class="tk" x="156.8" y="2050.8" text-anchor="end">120</text>
<text class="tk" x="156.8" y="2472.8" text-anchor="end">140</text>
<text class="tk" x="156.8" y="2894.7" text-anchor="end">160</text>
<path d="M164.8 1614.5H176.8M164.8 2036.4H176.8M164.8 2458.4H176.8M164.8 2880.3H176.8" stroke="#8e8e8e" stroke-width="3.6" fill="none"/>
<text class="xt" transform="translate(211.5 2949) rotate(-90)" text-anchor="end">1997</text>
<text class="xt" transform="translate(247.4 2949) rotate(-90)" text-anchor="end">1998</text>
<text class="xt" transform="translate(283.2 2949) rotate(-90)" text-anchor="end">1999</text>
<text class="xt" transform="translate(319.1 2949) rotate(-90)" text-anchor="end">2000</text>
<text class="xt" transform="translate(355 2949) rotate(-90)" text-anchor="end">2001</text>
<text class="xt" transform="translate(390.8 2949) rotate(-90)" text-anchor="end">2002</text>
<text class="xt" transform="translate(426.7 2949) rotate(-90)" text-anchor="end">2003</text>
<text class="xt" transform="translate(462.6 2949) rotate(-90)" text-anchor="end">2004</text>
<text class="xt" transform="translate(498.5 2949) rotate(-90)" text-anchor="end">2005</text>
<text class="xt" transform="translate(534.3 2949) rotate(-90)" text-anchor="end">2006</text>
<text class="xt" transform="translate(570.2 2949) rotate(-90)" text-anchor="end">2007</text>
<text class="xt" transform="translate(606.1 2949) rotate(-90)" text-anchor="end">2008</text>
<text class="xt" transform="translate(641.9 2949) rotate(-90)" text-anchor="end">2009</text>
<text class="xt" transform="translate(677.8 2949) rotate(-90)" text-anchor="end">2010</text>
<text class="xt" transform="translate(713.7 2949) rotate(-90)" text-anchor="end">2011</text>
<text class="xt" transform="translate(749.5 2949) rotate(-90)" text-anchor="end">2012</text>
<text class="xt" transform="translate(785.4 2949) rotate(-90)" text-anchor="end">2013</text>
<text class="xt" transform="translate(821.3 2949) rotate(-90)" text-anchor="end">2014</text>
<text class="xt" transform="translate(857.2 2949) rotate(-90)" text-anchor="end">2015</text>
<text class="xt" transform="translate(893 2949) rotate(-90)" text-anchor="end">2016</text>
<text class="xt" transform="translate(928.9 2949) rotate(-90)" text-anchor="end">2017</text>
<text class="xt" transform="translate(964.8 2949) rotate(-90)" text-anchor="end">2018</text>
<path d="M196.8 2929.2V2941.7M232.7 2929.2V2941.7M268.5 2929.2V2941.7M304.4 2929.2V2941.7M340.3 2929.2V2941.7M376.1 2929.2V2941.7M412 2929.2V2941.7M447.9 2929.2V2941.7M483.8 2929.2V2941.7M519.6 2929.2V2941.7M555.5 2929.2V2941.7M591.4 2929.2V2941.7M627.2 2929.2V2941.7M663.1 2929.2V2941.7M699 2929.2V2941.7M734.8 2929.2V2941.7M770.7 2929.2V2941.7M806.6 2929.2V2941.7M842.5 2929.2V2941.7M878.3 2929.2V2941.7M914.2 2929.2V2941.7M950.1 2929.2V2941.7" stroke="#8a8a8a" stroke-width="2.4" fill="none"/>
<text class="yr" x="573.1" y="3071.8" text-anchor="middle">Year</text>
</g>
<text class="pl" x="195.6" y="1349">a</text>
<text class="pl" x="1299.4" y="1349.8">b</text>
<text class="pl" x="222.6" y="2904.2">c</text>
<text class="ax" transform="translate(53.6 712.8) rotate(-90)" text-anchor="middle">Transect ID</text>
<text class="ax" transform="translate(53.4 2264.4) rotate(-90)" text-anchor="middle">Transect ID</text>
<path d="M1051.7 159V1224.5" stroke="#000" stroke-width="11" fill="none"/>
<path d="M1035.8 1222L1067.6 1222L1051.7 1251.5z" fill="#000"/>
<path d="M1041.2 1713.1V2778.5" stroke="#000" stroke-width="11" fill="none"/>
<path d="M1025.3 2776L1057.1 2776L1041.2 2805.5z" fill="#000"/>
<text class="st" transform="translate(1135.6 326.3) rotate(-90)" text-anchor="middle">Upstream</text>
<text class="st" transform="translate(1141.8 1043.6) rotate(-90)" text-anchor="middle" letter-spacing="0.3">Downstream</text>
<text class="st" transform="translate(1124.4 1883) rotate(-90)" text-anchor="middle">Upstream</text>
<text class="st" transform="translate(1130.2 2597.4) rotate(-90)" text-anchor="middle" letter-spacing="0.3">Downstream</text>
<g id="legend">
<text class="lt" transform="translate(1394.6 1958.2) scale(1.072 1)">Change in meters</text>
<rect x="1390.8" y="2012.7" width="104.4" height="496.8" fill="url(#cb)"/>
<text class="lg" transform="translate(1523.6 2080.6) scale(1.085 1)">1000</text>
<text class="lg" transform="translate(1523.6 2178.6) scale(1.085 1)">500</text>
<text class="lg" transform="translate(1523.6 2276.6) scale(1.085 1)">0</text>
<text class="lg" transform="translate(1523.6 2374.7) scale(1.085 1)">−500</text>
<text class="lg" transform="translate(1523.6 2472.8) scale(1.085 1)">−1000</text>
<path d="M1390.8 2064.6h22M1473.2 2064.6h22M1390.8 2162.6h22M1473.2 2162.6h22M1390.8 2260.6h22M1473.2 2260.6h22M1390.8 2358.7h22M1473.2 2358.7h22M1390.8 2456.8h22M1473.2 2456.8h22" stroke="#fff" stroke-opacity="0.85" stroke-width="2.4" fill="none"/>
</g>
</svg></body></html>
